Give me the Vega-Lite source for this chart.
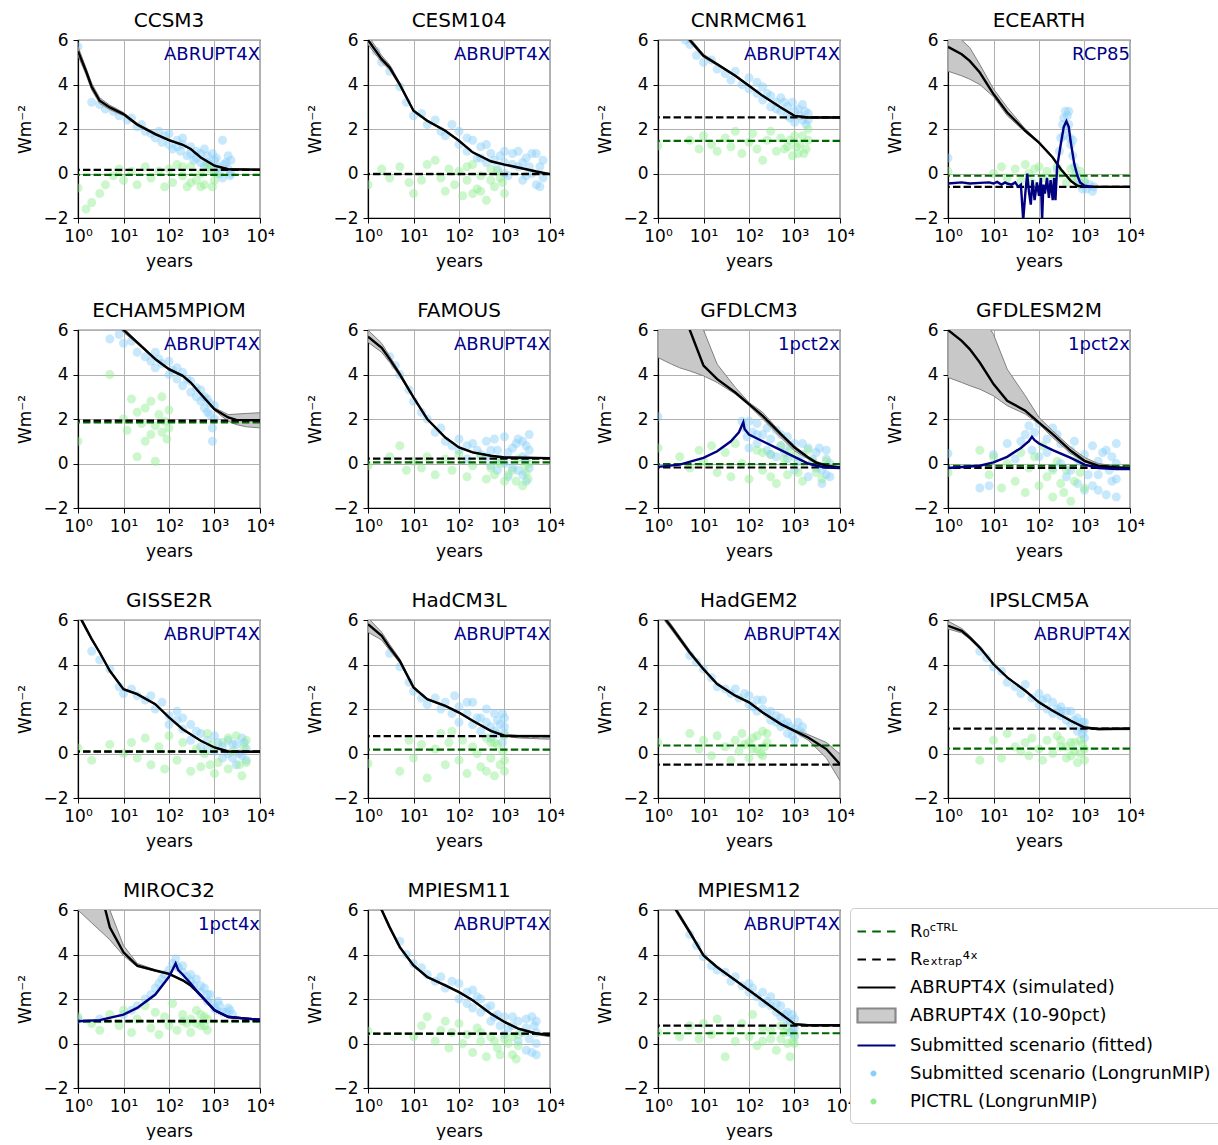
{
"$schema":"https://vega.github.io/schema/vega-lite/v6.json",
"padding":{"left":16,"top":10,"right":0,"bottom":0},
"config":{
 "font":"DejaVu Sans",
 "view":{"stroke":"black","strokeWidth":1.2},
 "axis":{"grid":true,"gridColor":"#b0b0b0","gridWidth":1,"domainColor":"black","domainWidth":1.2,"tickColor":"black","tickSize":5,"labelFontSize":17,"labelColor":"black","titleFontSize":17,"titleFontWeight":"normal","titleColor":"black","labelFlush":false,"labelOverlap":false},
 "axisX":{"labelPadding":5,"titlePadding":9},
 "axisY":{"labelPadding":5,"titlePadding":8},
 "legend":{"orient":"none","legendX":772,"legendY":868,"labelFontSize":18,"labelColor":"black","symbolSize":400,"symbolStrokeWidth":2.2,"symbolOpacity":1,"fillColor":"white","strokeColor":"#cccccc","cornerRadius":4,"padding":12,"rowPadding":7,"labelOffset":25,"labelLimit":400}
},
"columns":4,
"spacing":{"row":30,"column":31},
"resolve":{"axis":{"x":"independent","y":"independent"}},
"facet":{"field":"m","type":"nominal","sort":["CCSM3","CESM104","CNRMCM61","ECEARTH","ECHAM5MPIOM","FAMOUS","GFDLCM3","GFDLESM2M","GISSE2R","HadCM3L","HadGEM2","IPSLCM5A","MIROC32","MPIESM11","MPIESM12"],"header":{"title":null,"labelFontSize":20,"labelPadding":0,"labelColor":"black"}},
"data":{"values":[
{"m":"CCSM3","k":"r","r0":-0.06,"rx":0.16,"lab":"ABRUPT4X"},
{"m":"CESM104","k":"r","r0":-0.02,"rx":-0.03,"lab":"ABRUPT4X"},
{"m":"CNRMCM61","k":"r","r0":1.47,"rx":2.52,"lab":"ABRUPT4X"},
{"m":"ECEARTH","k":"r","r0":-0.1,"rx":-0.6,"lab":"RCP85"},
{"m":"ECHAM5MPIOM","k":"r","r0":1.85,"rx":1.93,"lab":"ABRUPT4X"},
{"m":"FAMOUS","k":"r","r0":0.05,"rx":0.22,"lab":"ABRUPT4X"},
{"m":"GFDLCM3","k":"r","r0":-0.03,"rx":-0.18,"lab":"1pct2x"},
{"m":"GFDLESM2M","k":"r","r0":-0.1,"rx":-0.2,"lab":"1pct2x"},
{"m":"GISSE2R","k":"r","r0":0.1,"rx":0.08,"lab":"ABRUPT4X"},
{"m":"HadCM3L","k":"r","r0":0.17,"rx":0.78,"lab":"ABRUPT4X"},
{"m":"HadGEM2","k":"r","r0":0.36,"rx":-0.5,"lab":"ABRUPT4X"},
{"m":"IPSLCM5A","k":"r","r0":0.22,"rx":1.12,"lab":"ABRUPT4X"},
{"m":"MIROC32","k":"r","r0":0.98,"rx":1.02,"lab":"1pct4x"},
{"m":"MPIESM11","k":"r","r0":0.43,"rx":0.45,"lab":"ABRUPT4X"},
{"m":"MPIESM12","k":"r","r0":0.46,"rx":0.8,"lab":"ABRUPT4X"},

{"m":"CCSM3","k":"s","x":1,"y":5.5,"lo":5.3,"hi":5.7},
{"m":"CCSM3","k":"s","x":1.5,"y":4.6,"lo":4.45,"hi":4.75},
{"m":"CCSM3","k":"s","x":2,"y":3.9,"lo":3.75,"hi":4.05},
{"m":"CCSM3","k":"s","x":3,"y":3.27,"lo":3.15,"hi":3.4},
{"m":"CCSM3","k":"s","x":5,"y":2.97,"lo":2.87,"hi":3.07},
{"m":"CCSM3","k":"s","x":10,"y":2.67,"lo":2.6,"hi":2.74},
{"m":"CCSM3","k":"s","x":20,"y":2.2,"lo":2.15,"hi":2.25},
{"m":"CCSM3","k":"s","x":50,"y":1.77,"lo":1.73,"hi":1.81},
{"m":"CCSM3","k":"s","x":100,"y":1.5,"lo":1.47,"hi":1.53},
{"m":"CCSM3","k":"s","x":200,"y":1.29,"lo":1.26,"hi":1.32},
{"m":"CCSM3","k":"s","x":300,"y":1.1,"lo":1.07,"hi":1.13},
{"m":"CCSM3","k":"s","x":500,"y":0.72,"lo":0.69,"hi":0.75},
{"m":"CCSM3","k":"s","x":1000,"y":0.35,"lo":0.32,"hi":0.38},
{"m":"CCSM3","k":"s","x":2000,"y":0.19,"lo":0.16,"hi":0.22},
{"m":"CCSM3","k":"s","x":10000,"y":0.17,"lo":0.14,"hi":0.2},

{"m":"CESM104","k":"s","x":1,"y":6.0,"lo":5.8,"hi":6.2},
{"m":"CESM104","k":"s","x":2,"y":5.14,"lo":5.0,"hi":5.3},
{"m":"CESM104","k":"s","x":3,"y":4.76,"lo":4.65,"hi":4.88},
{"m":"CESM104","k":"s","x":5,"y":4.0,"lo":3.92,"hi":4.08},
{"m":"CESM104","k":"s","x":10,"y":2.82,"lo":2.77,"hi":2.87},
{"m":"CESM104","k":"s","x":20,"y":2.37,"lo":2.33,"hi":2.41},
{"m":"CESM104","k":"s","x":50,"y":1.92,"lo":1.89,"hi":1.95},
{"m":"CESM104","k":"s","x":100,"y":1.47,"lo":1.44,"hi":1.5},
{"m":"CESM104","k":"s","x":200,"y":0.95,"lo":0.93,"hi":0.97},
{"m":"CESM104","k":"s","x":500,"y":0.55,"lo":0.53,"hi":0.57},
{"m":"CESM104","k":"s","x":1000,"y":0.4,"lo":0.38,"hi":0.42},
{"m":"CESM104","k":"s","x":2000,"y":0.27,"lo":0.25,"hi":0.29},
{"m":"CESM104","k":"s","x":5000,"y":0.09,"lo":0.07,"hi":0.11},
{"m":"CESM104","k":"s","x":10000,"y":-0.03,"lo":-0.05,"hi":-0.01},

{"m":"CNRMCM61","k":"s","x":3,"y":6.5,"lo":6.4,"hi":6.6},
{"m":"CNRMCM61","k":"s","x":5,"y":6.0,"lo":5.9,"hi":6.1},
{"m":"CNRMCM61","k":"s","x":10,"y":5.29,"lo":5.22,"hi":5.36},
{"m":"CNRMCM61","k":"s","x":20,"y":4.91,"lo":4.86,"hi":4.96},
{"m":"CNRMCM61","k":"s","x":50,"y":4.39,"lo":4.35,"hi":4.43},
{"m":"CNRMCM61","k":"s","x":100,"y":3.94,"lo":3.9,"hi":3.98},
{"m":"CNRMCM61","k":"s","x":200,"y":3.49,"lo":3.46,"hi":3.52},
{"m":"CNRMCM61","k":"s","x":500,"y":2.97,"lo":2.94,"hi":3.0},
{"m":"CNRMCM61","k":"s","x":1000,"y":2.59,"lo":2.56,"hi":2.62},
{"m":"CNRMCM61","k":"s","x":2000,"y":2.52,"lo":2.49,"hi":2.55},
{"m":"CNRMCM61","k":"s","x":10000,"y":2.52,"lo":2.49,"hi":2.55},

{"m":"ECEARTH","k":"s","x":1,"y":5.69,"lo":4.6,"hi":6.5},
{"m":"ECEARTH","k":"s","x":2,"y":5.36,"lo":4.39,"hi":6.0},
{"m":"ECEARTH","k":"s","x":3,"y":5.06,"lo":4.24,"hi":5.66},
{"m":"ECEARTH","k":"s","x":5,"y":4.54,"lo":4.0,"hi":4.9},
{"m":"ECEARTH","k":"s","x":10,"y":3.57,"lo":3.45,"hi":3.8},
{"m":"ECEARTH","k":"s","x":20,"y":2.74,"lo":2.6,"hi":2.97},
{"m":"ECEARTH","k":"s","x":50,"y":1.92,"lo":1.85,"hi":2.0},
{"m":"ECEARTH","k":"s","x":100,"y":1.39,"lo":1.35,"hi":1.43},
{"m":"ECEARTH","k":"s","x":200,"y":0.72,"lo":0.69,"hi":0.75},
{"m":"ECEARTH","k":"s","x":300,"y":0.2,"lo":0.17,"hi":0.23},
{"m":"ECEARTH","k":"s","x":500,"y":-0.33,"lo":-0.36,"hi":-0.3},
{"m":"ECEARTH","k":"s","x":700,"y":-0.55,"lo":-0.58,"hi":-0.52},
{"m":"ECEARTH","k":"s","x":1000,"y":-0.6,"lo":-0.63,"hi":-0.57},
{"m":"ECEARTH","k":"s","x":10000,"y":-0.6,"lo":-0.63,"hi":-0.57},

{"m":"ECHAM5MPIOM","k":"s","x":7,"y":6.3,"lo":6.2,"hi":6.4},
{"m":"ECHAM5MPIOM","k":"s","x":10,"y":6.0,"lo":5.9,"hi":6.1},
{"m":"ECHAM5MPIOM","k":"s","x":20,"y":5.44,"lo":5.38,"hi":5.5},
{"m":"ECHAM5MPIOM","k":"s","x":50,"y":4.69,"lo":4.64,"hi":4.74},
{"m":"ECHAM5MPIOM","k":"s","x":100,"y":4.24,"lo":4.2,"hi":4.28},
{"m":"ECHAM5MPIOM","k":"s","x":200,"y":3.94,"lo":3.9,"hi":3.98},
{"m":"ECHAM5MPIOM","k":"s","x":300,"y":3.64,"lo":3.6,"hi":3.68},
{"m":"ECHAM5MPIOM","k":"s","x":500,"y":3.12,"lo":3.08,"hi":3.16},
{"m":"ECHAM5MPIOM","k":"s","x":1000,"y":2.44,"lo":2.38,"hi":2.5},
{"m":"ECHAM5MPIOM","k":"s","x":2000,"y":2.07,"lo":1.9,"hi":2.2},
{"m":"ECHAM5MPIOM","k":"s","x":3000,"y":1.96,"lo":1.75,"hi":2.22},
{"m":"ECHAM5MPIOM","k":"s","x":5000,"y":1.95,"lo":1.65,"hi":2.25},
{"m":"ECHAM5MPIOM","k":"s","x":10000,"y":1.95,"lo":1.6,"hi":2.28},

{"m":"FAMOUS","k":"s","x":1,"y":5.7,"lo":5.45,"hi":6.0},
{"m":"FAMOUS","k":"s","x":2,"y":5.2,"lo":5.0,"hi":5.4},
{"m":"FAMOUS","k":"s","x":3,"y":4.69,"lo":4.55,"hi":4.82},
{"m":"FAMOUS","k":"s","x":5,"y":4.01,"lo":3.92,"hi":4.1},
{"m":"FAMOUS","k":"s","x":10,"y":2.97,"lo":2.92,"hi":3.02},
{"m":"FAMOUS","k":"s","x":20,"y":2.0,"lo":1.96,"hi":2.04},
{"m":"FAMOUS","k":"s","x":50,"y":1.17,"lo":1.14,"hi":1.2},
{"m":"FAMOUS","k":"s","x":100,"y":0.72,"lo":0.7,"hi":0.74},
{"m":"FAMOUS","k":"s","x":200,"y":0.5,"lo":0.48,"hi":0.52},
{"m":"FAMOUS","k":"s","x":500,"y":0.35,"lo":0.33,"hi":0.37},
{"m":"FAMOUS","k":"s","x":1000,"y":0.27,"lo":0.25,"hi":0.29},
{"m":"FAMOUS","k":"s","x":10000,"y":0.24,"lo":0.22,"hi":0.26},

{"m":"GFDLCM3","k":"s","x":1,"y":8.5,"lo":4.76,"hi":9},
{"m":"GFDLCM3","k":"s","x":2,"y":7.6,"lo":4.46,"hi":8.5},
{"m":"GFDLCM3","k":"s","x":3,"y":6.8,"lo":4.3,"hi":8},
{"m":"GFDLCM3","k":"s","x":5,"y":6.0,"lo":4.16,"hi":7.3},
{"m":"GFDLCM3","k":"s","x":10,"y":4.4,"lo":3.94,"hi":6.0},
{"m":"GFDLCM3","k":"s","x":20,"y":3.79,"lo":3.64,"hi":4.46},
{"m":"GFDLCM3","k":"s","x":50,"y":3.19,"lo":3.12,"hi":3.42},
{"m":"GFDLCM3","k":"s","x":100,"y":2.67,"lo":2.6,"hi":2.74},
{"m":"GFDLCM3","k":"s","x":200,"y":2.14,"lo":2.0,"hi":2.3},
{"m":"GFDLCM3","k":"s","x":500,"y":1.32,"lo":1.17,"hi":1.39},
{"m":"GFDLCM3","k":"s","x":1000,"y":0.72,"lo":0.57,"hi":0.8},
{"m":"GFDLCM3","k":"s","x":2000,"y":0.27,"lo":0.2,"hi":0.3},
{"m":"GFDLCM3","k":"s","x":3000,"y":0.04,"lo":0.0,"hi":0.1},
{"m":"GFDLCM3","k":"s","x":5000,"y":-0.1,"lo":-0.12,"hi":-0.06},
{"m":"GFDLCM3","k":"s","x":10000,"y":-0.18,"lo":-0.2,"hi":-0.15},

{"m":"GFDLESM2M","k":"s","x":1,"y":6.0,"lo":3.87,"hi":8},
{"m":"GFDLESM2M","k":"s","x":2,"y":5.51,"lo":3.64,"hi":7.5},
{"m":"GFDLESM2M","k":"s","x":3,"y":5.14,"lo":3.5,"hi":7.1},
{"m":"GFDLESM2M","k":"s","x":5,"y":4.54,"lo":3.34,"hi":6.8},
{"m":"GFDLESM2M","k":"s","x":10,"y":3.57,"lo":3.04,"hi":5.8},
{"m":"GFDLESM2M","k":"s","x":20,"y":2.82,"lo":2.6,"hi":4.24},
{"m":"GFDLESM2M","k":"s","x":50,"y":2.37,"lo":2.22,"hi":3.04},
{"m":"GFDLESM2M","k":"s","x":100,"y":1.84,"lo":1.77,"hi":2.07},
{"m":"GFDLESM2M","k":"s","x":200,"y":1.32,"lo":1.17,"hi":1.47},
{"m":"GFDLESM2M","k":"s","x":500,"y":0.57,"lo":0.45,"hi":0.72},
{"m":"GFDLESM2M","k":"s","x":1000,"y":0.12,"lo":0.07,"hi":0.27},
{"m":"GFDLESM2M","k":"s","x":2000,"y":-0.1,"lo":-0.12,"hi":0.0},
{"m":"GFDLESM2M","k":"s","x":5000,"y":-0.18,"lo":-0.2,"hi":-0.12},
{"m":"GFDLESM2M","k":"s","x":10000,"y":-0.22,"lo":-0.25,"hi":-0.18},

{"m":"GISSE2R","k":"s","x":1,"y":6.3,"lo":6.2,"hi":6.4},
{"m":"GISSE2R","k":"s","x":2,"y":5.14,"lo":5.08,"hi":5.2},
{"m":"GISSE2R","k":"s","x":3,"y":4.54,"lo":4.49,"hi":4.59},
{"m":"GISSE2R","k":"s","x":5,"y":3.72,"lo":3.68,"hi":3.76},
{"m":"GISSE2R","k":"s","x":10,"y":2.89,"lo":2.86,"hi":2.92},
{"m":"GISSE2R","k":"s","x":20,"y":2.67,"lo":2.64,"hi":2.7},
{"m":"GISSE2R","k":"s","x":50,"y":2.22,"lo":2.19,"hi":2.25},
{"m":"GISSE2R","k":"s","x":100,"y":1.62,"lo":1.6,"hi":1.64},
{"m":"GISSE2R","k":"s","x":200,"y":1.09,"lo":1.07,"hi":1.11},
{"m":"GISSE2R","k":"s","x":500,"y":0.57,"lo":0.55,"hi":0.59},
{"m":"GISSE2R","k":"s","x":1000,"y":0.27,"lo":0.25,"hi":0.29},
{"m":"GISSE2R","k":"s","x":2000,"y":0.09,"lo":0.07,"hi":0.11},
{"m":"GISSE2R","k":"s","x":10000,"y":0.08,"lo":0.06,"hi":0.1},

{"m":"HadCM3L","k":"s","x":1,"y":5.81,"lo":5.45,"hi":6.1},
{"m":"HadCM3L","k":"s","x":2,"y":5.29,"lo":5.1,"hi":5.45},
{"m":"HadCM3L","k":"s","x":3,"y":4.76,"lo":4.63,"hi":4.9},
{"m":"HadCM3L","k":"s","x":5,"y":4.16,"lo":4.07,"hi":4.25},
{"m":"HadCM3L","k":"s","x":10,"y":2.97,"lo":2.92,"hi":3.02},
{"m":"HadCM3L","k":"s","x":20,"y":2.44,"lo":2.41,"hi":2.47},
{"m":"HadCM3L","k":"s","x":50,"y":2.14,"lo":2.11,"hi":2.17},
{"m":"HadCM3L","k":"s","x":100,"y":1.84,"lo":1.81,"hi":1.87},
{"m":"HadCM3L","k":"s","x":200,"y":1.47,"lo":1.44,"hi":1.5},
{"m":"HadCM3L","k":"s","x":500,"y":1.02,"lo":0.99,"hi":1.05},
{"m":"HadCM3L","k":"s","x":1000,"y":0.8,"lo":0.77,"hi":0.83},
{"m":"HadCM3L","k":"s","x":2000,"y":0.78,"lo":0.7,"hi":0.82},
{"m":"HadCM3L","k":"s","x":10000,"y":0.78,"lo":0.64,"hi":0.82},

{"m":"HadGEM2","k":"s","x":1,"y":6.5,"lo":6.4,"hi":6.6},
{"m":"HadGEM2","k":"s","x":1.5,"y":6.0,"lo":5.88,"hi":6.12},
{"m":"HadGEM2","k":"s","x":2,"y":5.66,"lo":5.55,"hi":5.77},
{"m":"HadGEM2","k":"s","x":5,"y":4.54,"lo":4.45,"hi":4.63},
{"m":"HadGEM2","k":"s","x":10,"y":3.79,"lo":3.74,"hi":3.84},
{"m":"HadGEM2","k":"s","x":20,"y":3.12,"lo":3.08,"hi":3.16},
{"m":"HadGEM2","k":"s","x":50,"y":2.6,"lo":2.57,"hi":2.63},
{"m":"HadGEM2","k":"s","x":100,"y":2.3,"lo":2.27,"hi":2.33},
{"m":"HadGEM2","k":"s","x":200,"y":1.84,"lo":1.81,"hi":1.87},
{"m":"HadGEM2","k":"s","x":500,"y":1.32,"lo":1.29,"hi":1.35},
{"m":"HadGEM2","k":"s","x":1000,"y":1.02,"lo":0.98,"hi":1.06},
{"m":"HadGEM2","k":"s","x":2000,"y":0.72,"lo":0.6,"hi":0.85},
{"m":"HadGEM2","k":"s","x":5000,"y":0.2,"lo":-0.2,"hi":0.5},
{"m":"HadGEM2","k":"s","x":10000,"y":-0.48,"lo":-1.23,"hi":-0.03},

{"m":"IPSLCM5A","k":"s","x":1,"y":5.74,"lo":5.6,"hi":5.95},
{"m":"IPSLCM5A","k":"s","x":2,"y":5.51,"lo":5.42,"hi":5.62},
{"m":"IPSLCM5A","k":"s","x":3,"y":5.21,"lo":5.14,"hi":5.3},
{"m":"IPSLCM5A","k":"s","x":5,"y":4.76,"lo":4.7,"hi":4.82},
{"m":"IPSLCM5A","k":"s","x":10,"y":4.01,"lo":3.97,"hi":4.05},
{"m":"IPSLCM5A","k":"s","x":20,"y":3.42,"lo":3.39,"hi":3.45},
{"m":"IPSLCM5A","k":"s","x":50,"y":2.82,"lo":2.79,"hi":2.85},
{"m":"IPSLCM5A","k":"s","x":100,"y":2.3,"lo":2.27,"hi":2.33},
{"m":"IPSLCM5A","k":"s","x":200,"y":1.92,"lo":1.89,"hi":1.95},
{"m":"IPSLCM5A","k":"s","x":500,"y":1.47,"lo":1.44,"hi":1.5},
{"m":"IPSLCM5A","k":"s","x":1000,"y":1.17,"lo":1.14,"hi":1.2},
{"m":"IPSLCM5A","k":"s","x":2000,"y":1.1,"lo":1.06,"hi":1.14},
{"m":"IPSLCM5A","k":"s","x":10000,"y":1.12,"lo":1.07,"hi":1.16},

{"m":"MIROC32","k":"s","x":1,"y":8.0,"lo":6.0,"hi":9.5},
{"m":"MIROC32","k":"s","x":2,"y":6.8,"lo":5.42,"hi":8.5},
{"m":"MIROC32","k":"s","x":4,"y":6.0,"lo":4.85,"hi":6.9},
{"m":"MIROC32","k":"s","x":5,"y":5.22,"lo":4.66,"hi":6.0},
{"m":"MIROC32","k":"s","x":10,"y":4.1,"lo":3.95,"hi":4.4},
{"m":"MIROC32","k":"s","x":20,"y":3.5,"lo":3.45,"hi":3.6},
{"m":"MIROC32","k":"s","x":50,"y":3.28,"lo":3.25,"hi":3.31},
{"m":"MIROC32","k":"s","x":100,"y":3.13,"lo":3.1,"hi":3.16},
{"m":"MIROC32","k":"s","x":200,"y":2.84,"lo":2.81,"hi":2.87},
{"m":"MIROC32","k":"s","x":300,"y":2.61,"lo":2.58,"hi":2.64},
{"m":"MIROC32","k":"s","x":500,"y":2.16,"lo":2.13,"hi":2.19},
{"m":"MIROC32","k":"s","x":1000,"y":1.49,"lo":1.46,"hi":1.52},
{"m":"MIROC32","k":"s","x":2000,"y":1.19,"lo":1.16,"hi":1.22},
{"m":"MIROC32","k":"s","x":5000,"y":1.12,"lo":1.09,"hi":1.15},
{"m":"MIROC32","k":"s","x":10000,"y":1.07,"lo":1.04,"hi":1.1},

{"m":"MPIESM11","k":"s","x":1,"y":6.8,"lo":6.7,"hi":6.9},
{"m":"MPIESM11","k":"s","x":2,"y":6.0,"lo":5.92,"hi":6.08},
{"m":"MPIESM11","k":"s","x":3,"y":5.22,"lo":5.15,"hi":5.29},
{"m":"MPIESM11","k":"s","x":5,"y":4.33,"lo":4.27,"hi":4.39},
{"m":"MPIESM11","k":"s","x":10,"y":3.51,"lo":3.46,"hi":3.56},
{"m":"MPIESM11","k":"s","x":20,"y":2.99,"lo":2.95,"hi":3.03},
{"m":"MPIESM11","k":"s","x":50,"y":2.61,"lo":2.58,"hi":2.64},
{"m":"MPIESM11","k":"s","x":100,"y":2.31,"lo":2.28,"hi":2.34},
{"m":"MPIESM11","k":"s","x":200,"y":1.94,"lo":1.91,"hi":1.97},
{"m":"MPIESM11","k":"s","x":500,"y":1.34,"lo":1.31,"hi":1.37},
{"m":"MPIESM11","k":"s","x":1000,"y":0.97,"lo":0.94,"hi":1.0},
{"m":"MPIESM11","k":"s","x":2000,"y":0.67,"lo":0.64,"hi":0.7},
{"m":"MPIESM11","k":"s","x":5000,"y":0.45,"lo":0.4,"hi":0.48},
{"m":"MPIESM11","k":"s","x":10000,"y":0.37,"lo":0.3,"hi":0.42},

{"m":"MPIESM12","k":"s","x":1,"y":7.5,"lo":7.4,"hi":7.6},
{"m":"MPIESM12","k":"s","x":2.5,"y":6.0,"lo":5.9,"hi":6.1},
{"m":"MPIESM12","k":"s","x":5,"y":5.0,"lo":4.92,"hi":5.08},
{"m":"MPIESM12","k":"s","x":10,"y":3.96,"lo":3.91,"hi":4.01},
{"m":"MPIESM12","k":"s","x":20,"y":3.43,"lo":3.39,"hi":3.47},
{"m":"MPIESM12","k":"s","x":50,"y":2.84,"lo":2.81,"hi":2.87},
{"m":"MPIESM12","k":"s","x":100,"y":2.39,"lo":2.36,"hi":2.42},
{"m":"MPIESM12","k":"s","x":200,"y":1.94,"lo":1.91,"hi":1.97},
{"m":"MPIESM12","k":"s","x":500,"y":1.34,"lo":1.31,"hi":1.37},
{"m":"MPIESM12","k":"s","x":1000,"y":0.87,"lo":0.84,"hi":0.9},
{"m":"MPIESM12","k":"s","x":2000,"y":0.82,"lo":0.79,"hi":0.85},
{"m":"MPIESM12","k":"s","x":10000,"y":0.82,"lo":0.79,"hi":0.85},

{"m":"ECEARTH","k":"f","x":1,"y":-0.45},{"m":"ECEARTH","k":"f","x":2,"y":-0.4},{"m":"ECEARTH","k":"f","x":3,"y":-0.45},{"m":"ECEARTH","k":"f","x":5,"y":-0.42},{"m":"ECEARTH","k":"f","x":8,"y":-0.4},{"m":"ECEARTH","k":"f","x":10,"y":-0.45},{"m":"ECEARTH","k":"f","x":12,"y":-0.38},{"m":"ECEARTH","k":"f","x":15,"y":-0.5},{"m":"ECEARTH","k":"f","x":18,"y":-0.4},{"m":"ECEARTH","k":"f","x":20,"y":-0.45},{"m":"ECEARTH","k":"f","x":25,"y":-0.5},{"m":"ECEARTH","k":"f","x":30,"y":-0.4},{"m":"ECEARTH","k":"f","x":35,"y":-0.6},{"m":"ECEARTH","k":"f","x":40,"y":-0.5},{"m":"ECEARTH","k":"f","x":45,"y":-2.1},{"m":"ECEARTH","k":"f","x":50,"y":-0.9},{"m":"ECEARTH","k":"f","x":55,"y":0.0},{"m":"ECEARTH","k":"f","x":60,"y":-0.8},{"m":"ECEARTH","k":"f","x":66,"y":-1.4},{"m":"ECEARTH","k":"f","x":72,"y":-0.3},{"m":"ECEARTH","k":"f","x":80,"y":-1.2},{"m":"ECEARTH","k":"f","x":90,"y":-0.4},{"m":"ECEARTH","k":"f","x":100,"y":-1.0},{"m":"ECEARTH","k":"f","x":110,"y":-0.2},{"m":"ECEARTH","k":"f","x":117,"y":-2.1},{"m":"ECEARTH","k":"f","x":125,"y":-0.5},{"m":"ECEARTH","k":"f","x":135,"y":-0.9},{"m":"ECEARTH","k":"f","x":150,"y":-0.2},{"m":"ECEARTH","k":"f","x":165,"y":-1.1},{"m":"ECEARTH","k":"f","x":180,"y":-0.3},{"m":"ECEARTH","k":"f","x":200,"y":-1.2},{"m":"ECEARTH","k":"f","x":215,"y":-0.2},{"m":"ECEARTH","k":"f","x":230,"y":-1.2},{"m":"ECEARTH","k":"f","x":250,"y":0.3},{"m":"ECEARTH","k":"f","x":300,"y":1.3},{"m":"ECEARTH","k":"f","x":350,"y":2.1},{"m":"ECEARTH","k":"f","x":400,"y":2.35},{"m":"ECEARTH","k":"f","x":450,"y":2.1},{"m":"ECEARTH","k":"f","x":500,"y":1.4},{"m":"ECEARTH","k":"f","x":600,"y":0.4},{"m":"ECEARTH","k":"f","x":700,"y":-0.1},{"m":"ECEARTH","k":"f","x":800,"y":-0.4},{"m":"ECEARTH","k":"f","x":1000,"y":-0.55},{"m":"ECEARTH","k":"f","x":1500,"y":-0.6},

{"m":"GFDLCM3","k":"f","x":1,"y":-0.15},{"m":"GFDLCM3","k":"f","x":3,"y":-0.05},{"m":"GFDLCM3","k":"f","x":10,"y":0.25},{"m":"GFDLCM3","k":"f","x":20,"y":0.55},{"m":"GFDLCM3","k":"f","x":40,"y":1.0},{"m":"GFDLCM3","k":"f","x":60,"y":1.4},{"m":"GFDLCM3","k":"f","x":75,"y":1.85},{"m":"GFDLCM3","k":"f","x":80,"y":1.55},{"m":"GFDLCM3","k":"f","x":100,"y":1.3},{"m":"GFDLCM3","k":"f","x":200,"y":1.0},{"m":"GFDLCM3","k":"f","x":500,"y":0.6},{"m":"GFDLCM3","k":"f","x":1000,"y":0.3},{"m":"GFDLCM3","k":"f","x":2000,"y":0.0},{"m":"GFDLCM3","k":"f","x":3000,"y":-0.1},{"m":"GFDLCM3","k":"f","x":5000,"y":-0.18},{"m":"GFDLCM3","k":"f","x":10000,"y":-0.2},

{"m":"GFDLESM2M","k":"f","x":1,"y":-0.2},{"m":"GFDLESM2M","k":"f","x":5,"y":-0.1},{"m":"GFDLESM2M","k":"f","x":10,"y":0.05},{"m":"GFDLESM2M","k":"f","x":20,"y":0.3},{"m":"GFDLESM2M","k":"f","x":40,"y":0.7},{"m":"GFDLESM2M","k":"f","x":60,"y":1.0},{"m":"GFDLESM2M","k":"f","x":70,"y":1.2},{"m":"GFDLESM2M","k":"f","x":80,"y":1.05},{"m":"GFDLESM2M","k":"f","x":100,"y":0.9},{"m":"GFDLESM2M","k":"f","x":200,"y":0.6},{"m":"GFDLESM2M","k":"f","x":500,"y":0.25},{"m":"GFDLESM2M","k":"f","x":1000,"y":-0.05},{"m":"GFDLESM2M","k":"f","x":2000,"y":-0.2},{"m":"GFDLESM2M","k":"f","x":5000,"y":-0.25},{"m":"GFDLESM2M","k":"f","x":10000,"y":-0.25},

{"m":"MIROC32","k":"f","x":1,"y":1.0},{"m":"MIROC32","k":"f","x":3,"y":1.05},{"m":"MIROC32","k":"f","x":10,"y":1.3},{"m":"MIROC32","k":"f","x":20,"y":1.6},{"m":"MIROC32","k":"f","x":50,"y":2.2},{"m":"MIROC32","k":"f","x":100,"y":3.0},{"m":"MIROC32","k":"f","x":140,"y":3.6},{"m":"MIROC32","k":"f","x":160,"y":3.3},{"m":"MIROC32","k":"f","x":200,"y":3.1},{"m":"MIROC32","k":"f","x":300,"y":2.7},{"m":"MIROC32","k":"f","x":500,"y":2.15},{"m":"MIROC32","k":"f","x":1000,"y":1.5},{"m":"MIROC32","k":"f","x":2000,"y":1.2},{"m":"MIROC32","k":"f","x":5000,"y":1.12},{"m":"MIROC32","k":"f","x":10000,"y":1.07},

{"m":"CCSM3","k":"b","x":1,"y":5.7},{"m":"CCSM3","k":"b","x":2,"y":3.2},{"m":"CCSM3","k":"b","x":3,"y":3.1},{"m":"CCSM3","k":"b","x":4,"y":2.9},{"m":"CCSM3","k":"b","x":6,"y":2.8},{"m":"CCSM3","k":"b","x":8,"y":2.6},{"m":"CCSM3","k":"b","x":12,"y":2.4},{"m":"CCSM3","k":"b","x":15,"y":2.5},{"m":"CCSM3","k":"b","x":20,"y":2.1},{"m":"CCSM3","k":"b","x":25,"y":2.2},{"m":"CCSM3","k":"b","x":30,"y":1.9},{"m":"CCSM3","k":"b","x":40,"y":1.8},{"m":"CCSM3","k":"b","x":50,"y":1.6},{"m":"CCSM3","k":"b","x":60,"y":1.9},{"m":"CCSM3","k":"b","x":70,"y":1.4},{"m":"CCSM3","k":"b","x":80,"y":1.7},{"m":"CCSM3","k":"b","x":100,"y":1.3},{"m":"CCSM3","k":"b","x":100,"y":1.8},{"m":"CCSM3","k":"b","x":120,"y":1.1},{"m":"CCSM3","k":"b","x":150,"y":1.5},{"m":"CCSM3","k":"b","x":180,"y":1.0},{"m":"CCSM3","k":"b","x":200,"y":1.3},{"m":"CCSM3","k":"b","x":250,"y":0.8},{"m":"CCSM3","k":"b","x":300,"y":1.2},{"m":"CCSM3","k":"b","x":350,"y":0.6},{"m":"CCSM3","k":"b","x":400,"y":1.0},{"m":"CCSM3","k":"b","x":500,"y":0.5},{"m":"CCSM3","k":"b","x":500,"y":0.9},{"m":"CCSM3","k":"b","x":600,"y":0.3},{"m":"CCSM3","k":"b","x":700,"y":0.8},{"m":"CCSM3","k":"b","x":800,"y":0.4},{"m":"CCSM3","k":"b","x":1000,"y":0.6},{"m":"CCSM3","k":"b","x":1000,"y":0.1},{"m":"CCSM3","k":"b","x":1200,"y":0.3},{"m":"CCSM3","k":"b","x":1500,"y":1.5},{"m":"CCSM3","k":"b","x":1500,"y":-0.2},{"m":"CCSM3","k":"b","x":1800,"y":0.5},{"m":"CCSM3","k":"b","x":2000,"y":0.2},{"m":"CCSM3","k":"b","x":2200,"y":-0.1},{"m":"CCSM3","k":"b","x":2300,"y":0.6},
{"m":"CCSM3","k":"g","x":1,"y":-0.65},{"m":"CCSM3","k":"g","x":1.5,"y":-1.6},{"m":"CCSM3","k":"g","x":2,"y":-1.3},{"m":"CCSM3","k":"g","x":3,"y":-0.9},{"m":"CCSM3","k":"g","x":4,"y":-0.5},{"m":"CCSM3","k":"g","x":6,"y":-0.1},{"m":"CCSM3","k":"g","x":8,"y":0.2},{"m":"CCSM3","k":"g","x":10,"y":-0.3},{"m":"CCSM3","k":"g","x":15,"y":0.1},{"m":"CCSM3","k":"g","x":20,"y":-0.5},{"m":"CCSM3","k":"g","x":30,"y":0.3},{"m":"CCSM3","k":"g","x":40,"y":-0.2},{"m":"CCSM3","k":"g","x":60,"y":0.1},{"m":"CCSM3","k":"g","x":80,"y":-0.6},{"m":"CCSM3","k":"g","x":100,"y":0.2},{"m":"CCSM3","k":"g","x":120,"y":-0.4},{"m":"CCSM3","k":"g","x":150,"y":0.4},{"m":"CCSM3","k":"g","x":200,"y":-0.1},{"m":"CCSM3","k":"g","x":250,"y":-0.6},{"m":"CCSM3","k":"g","x":300,"y":0.3},{"m":"CCSM3","k":"g","x":400,"y":-0.3},{"m":"CCSM3","k":"g","x":500,"y":0.0},{"m":"CCSM3","k":"g","x":600,"y":-0.5},{"m":"CCSM3","k":"g","x":800,"y":0.2},{"m":"CCSM3","k":"g","x":1000,"y":-0.3},

{"m":"CESM104","k":"b","x":1.5,"y":5.5},{"m":"CESM104","k":"b","x":2,"y":5.0},{"m":"CESM104","k":"b","x":3,"y":4.6},{"m":"CESM104","k":"b","x":5,"y":3.9},{"m":"CESM104","k":"b","x":7,"y":3.2},{"m":"CESM104","k":"b","x":10,"y":2.6},{"m":"CESM104","k":"b","x":15,"y":2.7},{"m":"CESM104","k":"b","x":20,"y":2.2},{"m":"CESM104","k":"b","x":30,"y":2.4},{"m":"CESM104","k":"b","x":40,"y":1.9},{"m":"CESM104","k":"b","x":50,"y":1.7},{"m":"CESM104","k":"b","x":70,"y":2.2},{"m":"CESM104","k":"b","x":100,"y":1.3},{"m":"CESM104","k":"b","x":100,"y":1.9},{"m":"CESM104","k":"b","x":150,"y":1.0},{"m":"CESM104","k":"b","x":200,"y":1.5},{"m":"CESM104","k":"b","x":250,"y":0.7},{"m":"CESM104","k":"b","x":300,"y":1.2},{"m":"CESM104","k":"b","x":400,"y":0.5},{"m":"CESM104","k":"b","x":500,"y":0.9},{"m":"CESM104","k":"b","x":700,"y":0.2},{"m":"CESM104","k":"b","x":800,"y":0.8},{"m":"CESM104","k":"b","x":1000,"y":0.5},{"m":"CESM104","k":"b","x":1200,"y":-0.1},{"m":"CESM104","k":"b","x":1500,"y":0.9},{"m":"CESM104","k":"b","x":2000,"y":0.3},{"m":"CESM104","k":"b","x":2500,"y":-0.3},{"m":"CESM104","k":"b","x":3000,"y":0.7},{"m":"CESM104","k":"b","x":4000,"y":0.0},{"m":"CESM104","k":"b","x":5000,"y":0.9},{"m":"CESM104","k":"b","x":5000,"y":-0.5},{"m":"CESM104","k":"b","x":6000,"y":0.3},{"m":"CESM104","k":"b","x":7000,"y":-0.2},
{"m":"CESM104","k":"g","x":1,"y":-0.5},{"m":"CESM104","k":"g","x":2,"y":0.2},{"m":"CESM104","k":"g","x":3,"y":-0.2},{"m":"CESM104","k":"g","x":5,"y":0.3},{"m":"CESM104","k":"g","x":8,"y":-0.4},{"m":"CESM104","k":"g","x":10,"y":-0.9},{"m":"CESM104","k":"g","x":15,"y":-0.3},{"m":"CESM104","k":"g","x":20,"y":0.4},{"m":"CESM104","k":"g","x":30,"y":0.6},{"m":"CESM104","k":"g","x":40,"y":-0.2},{"m":"CESM104","k":"g","x":50,"y":-0.8},{"m":"CESM104","k":"g","x":60,"y":0.2},{"m":"CESM104","k":"g","x":80,"y":-0.5},{"m":"CESM104","k":"g","x":100,"y":0.1},{"m":"CESM104","k":"g","x":120,"y":-1.0},{"m":"CESM104","k":"g","x":150,"y":-0.3},{"m":"CESM104","k":"g","x":200,"y":0.4},{"m":"CESM104","k":"g","x":250,"y":-0.7},{"m":"CESM104","k":"g","x":300,"y":-0.1},{"m":"CESM104","k":"g","x":400,"y":-1.2},{"m":"CESM104","k":"g","x":500,"y":0.2},{"m":"CESM104","k":"g","x":600,"y":-0.6},{"m":"CESM104","k":"g","x":800,"y":-0.2},{"m":"CESM104","k":"g","x":1000,"y":-0.9},

{"m":"CNRMCM61","k":"b","x":4,"y":6.0},{"m":"CNRMCM61","k":"b","x":5,"y":5.8},{"m":"CNRMCM61","k":"b","x":7,"y":5.3},{"m":"CNRMCM61","k":"b","x":10,"y":5.0},{"m":"CNRMCM61","k":"b","x":15,"y":5.1},{"m":"CNRMCM61","k":"b","x":20,"y":4.7},{"m":"CNRMCM61","k":"b","x":30,"y":4.5},{"m":"CNRMCM61","k":"b","x":40,"y":4.2},{"m":"CNRMCM61","k":"b","x":50,"y":4.6},{"m":"CNRMCM61","k":"b","x":70,"y":4.0},{"m":"CNRMCM61","k":"b","x":100,"y":3.8},{"m":"CNRMCM61","k":"b","x":100,"y":4.3},{"m":"CNRMCM61","k":"b","x":150,"y":3.6},{"m":"CNRMCM61","k":"b","x":200,"y":3.9},{"m":"CNRMCM61","k":"b","x":200,"y":3.3},{"m":"CNRMCM61","k":"b","x":300,"y":3.5},{"m":"CNRMCM61","k":"b","x":300,"y":3.0},{"m":"CNRMCM61","k":"b","x":400,"y":3.2},{"m":"CNRMCM61","k":"b","x":500,"y":2.8},{"m":"CNRMCM61","k":"b","x":500,"y":3.4},{"m":"CNRMCM61","k":"b","x":700,"y":3.0},{"m":"CNRMCM61","k":"b","x":800,"y":2.5},{"m":"CNRMCM61","k":"b","x":1000,"y":2.8},{"m":"CNRMCM61","k":"b","x":1000,"y":2.3},{"m":"CNRMCM61","k":"b","x":1300,"y":2.6},{"m":"CNRMCM61","k":"b","x":1500,"y":3.1},{"m":"CNRMCM61","k":"b","x":1800,"y":2.2},{"m":"CNRMCM61","k":"b","x":2000,"y":2.7},
{"m":"CNRMCM61","k":"g","x":1,"y":1.25},{"m":"CNRMCM61","k":"g","x":5,"y":1.5},{"m":"CNRMCM61","k":"g","x":8,"y":1.1},{"m":"CNRMCM61","k":"g","x":10,"y":1.7},{"m":"CNRMCM61","k":"g","x":15,"y":1.3},{"m":"CNRMCM61","k":"g","x":20,"y":1.0},{"m":"CNRMCM61","k":"g","x":30,"y":1.6},{"m":"CNRMCM61","k":"g","x":40,"y":1.2},{"m":"CNRMCM61","k":"g","x":50,"y":1.9},{"m":"CNRMCM61","k":"g","x":70,"y":0.9},{"m":"CNRMCM61","k":"g","x":100,"y":1.4},{"m":"CNRMCM61","k":"g","x":120,"y":1.8},{"m":"CNRMCM61","k":"g","x":150,"y":1.1},{"m":"CNRMCM61","k":"g","x":200,"y":0.6},{"m":"CNRMCM61","k":"g","x":250,"y":1.5},{"m":"CNRMCM61","k":"g","x":300,"y":1.9},{"m":"CNRMCM61","k":"g","x":400,"y":1.0},{"m":"CNRMCM61","k":"g","x":500,"y":1.6},{"m":"CNRMCM61","k":"g","x":700,"y":1.2},{"m":"CNRMCM61","k":"g","x":900,"y":0.8},{"m":"CNRMCM61","k":"g","x":1000,"y":1.7},{"m":"CNRMCM61","k":"g","x":1300,"y":1.3},{"m":"CNRMCM61","k":"g","x":1600,"y":0.9},{"m":"CNRMCM61","k":"g","x":2000,"y":1.5},{"m":"CNRMCM61","k":"g","x":2000,"y":2.0},

{"m":"ECEARTH","k":"b","x":1,"y":0.7},{"m":"ECEARTH","k":"b","x":250,"y":0.2},{"m":"ECEARTH","k":"b","x":280,"y":1.0},{"m":"ECEARTH","k":"b","x":300,"y":1.6},{"m":"ECEARTH","k":"b","x":330,"y":2.2},{"m":"ECEARTH","k":"b","x":350,"y":2.5},{"m":"ECEARTH","k":"b","x":350,"y":1.7},{"m":"ECEARTH","k":"b","x":380,"y":2.8},{"m":"ECEARTH","k":"b","x":400,"y":2.0},{"m":"ECEARTH","k":"b","x":420,"y":2.6},{"m":"ECEARTH","k":"b","x":450,"y":2.2},{"m":"ECEARTH","k":"b","x":450,"y":2.8},{"m":"ECEARTH","k":"b","x":480,"y":1.6},{"m":"ECEARTH","k":"b","x":500,"y":1.3},{"m":"ECEARTH","k":"b","x":550,"y":0.8},{"m":"ECEARTH","k":"b","x":550,"y":1.5},{"m":"ECEARTH","k":"b","x":600,"y":0.3},{"m":"ECEARTH","k":"b","x":650,"y":0.0},{"m":"ECEARTH","k":"b","x":700,"y":-0.3},{"m":"ECEARTH","k":"b","x":800,"y":-0.5},{"m":"ECEARTH","k":"b","x":900,"y":-0.7},{"m":"ECEARTH","k":"b","x":1000,"y":-0.4},{"m":"ECEARTH","k":"b","x":1100,"y":-0.7},{"m":"ECEARTH","k":"b","x":1300,"y":-0.5},{"m":"ECEARTH","k":"b","x":1500,"y":-0.8},{"m":"ECEARTH","k":"b","x":1600,"y":-0.6},
{"m":"ECEARTH","k":"g","x":1,"y":0.1},{"m":"ECEARTH","k":"g","x":10,"y":0.0},{"m":"ECEARTH","k":"g","x":15,"y":0.3},{"m":"ECEARTH","k":"g","x":20,"y":-0.2},{"m":"ECEARTH","k":"g","x":30,"y":0.2},{"m":"ECEARTH","k":"g","x":40,"y":-0.3},{"m":"ECEARTH","k":"g","x":50,"y":0.4},{"m":"ECEARTH","k":"g","x":60,"y":0.0},{"m":"ECEARTH","k":"g","x":70,"y":-0.4},{"m":"ECEARTH","k":"g","x":80,"y":0.2},{"m":"ECEARTH","k":"g","x":100,"y":0.3},{"m":"ECEARTH","k":"g","x":120,"y":-0.2},{"m":"ECEARTH","k":"g","x":150,"y":0.1},{"m":"ECEARTH","k":"g","x":200,"y":-0.3},{"m":"ECEARTH","k":"g","x":250,"y":0.3},{"m":"ECEARTH","k":"g","x":300,"y":0.0},{"m":"ECEARTH","k":"g","x":400,"y":-0.4},{"m":"ECEARTH","k":"g","x":500,"y":0.2},{"m":"ECEARTH","k":"g","x":600,"y":-0.2},{"m":"ECEARTH","k":"g","x":800,"y":0.1},{"m":"ECEARTH","k":"g","x":1000,"y":-0.3},

{"m":"ECHAM5MPIOM","k":"b","x":5,"y":5.6},{"m":"ECHAM5MPIOM","k":"b","x":8,"y":5.8},{"m":"ECHAM5MPIOM","k":"b","x":10,"y":5.4},{"m":"ECHAM5MPIOM","k":"b","x":15,"y":5.5},{"m":"ECHAM5MPIOM","k":"b","x":20,"y":5.0},{"m":"ECHAM5MPIOM","k":"b","x":30,"y":4.8},{"m":"ECHAM5MPIOM","k":"b","x":40,"y":4.6},{"m":"ECHAM5MPIOM","k":"b","x":50,"y":4.3},{"m":"ECHAM5MPIOM","k":"b","x":50,"y":5.0},{"m":"ECHAM5MPIOM","k":"b","x":70,"y":4.5},{"m":"ECHAM5MPIOM","k":"b","x":100,"y":4.0},{"m":"ECHAM5MPIOM","k":"b","x":100,"y":4.6},{"m":"ECHAM5MPIOM","k":"b","x":150,"y":3.8},{"m":"ECHAM5MPIOM","k":"b","x":200,"y":4.1},{"m":"ECHAM5MPIOM","k":"b","x":200,"y":3.5},{"m":"ECHAM5MPIOM","k":"b","x":300,"y":3.7},{"m":"ECHAM5MPIOM","k":"b","x":300,"y":3.2},{"m":"ECHAM5MPIOM","k":"b","x":400,"y":3.4},{"m":"ECHAM5MPIOM","k":"b","x":500,"y":2.8},{"m":"ECHAM5MPIOM","k":"b","x":500,"y":3.3},{"m":"ECHAM5MPIOM","k":"b","x":600,"y":2.5},{"m":"ECHAM5MPIOM","k":"b","x":700,"y":2.9},{"m":"ECHAM5MPIOM","k":"b","x":800,"y":2.2},{"m":"ECHAM5MPIOM","k":"b","x":900,"y":1.0},{"m":"ECHAM5MPIOM","k":"b","x":900,"y":1.6},{"m":"ECHAM5MPIOM","k":"b","x":1000,"y":2.0},{"m":"ECHAM5MPIOM","k":"b","x":1000,"y":2.6},
{"m":"ECHAM5MPIOM","k":"g","x":1,"y":1.0},{"m":"ECHAM5MPIOM","k":"g","x":5,"y":4.0},{"m":"ECHAM5MPIOM","k":"g","x":10,"y":2.0},{"m":"ECHAM5MPIOM","k":"g","x":12,"y":1.5},{"m":"ECHAM5MPIOM","k":"g","x":15,"y":2.9},{"m":"ECHAM5MPIOM","k":"g","x":20,"y":0.3},{"m":"ECHAM5MPIOM","k":"g","x":20,"y":2.3},{"m":"ECHAM5MPIOM","k":"g","x":25,"y":1.8},{"m":"ECHAM5MPIOM","k":"g","x":30,"y":2.5},{"m":"ECHAM5MPIOM","k":"g","x":30,"y":1.0},{"m":"ECHAM5MPIOM","k":"g","x":40,"y":1.3},{"m":"ECHAM5MPIOM","k":"g","x":40,"y":2.8},{"m":"ECHAM5MPIOM","k":"g","x":50,"y":1.7},{"m":"ECHAM5MPIOM","k":"g","x":50,"y":0.1},{"m":"ECHAM5MPIOM","k":"g","x":60,"y":2.2},{"m":"ECHAM5MPIOM","k":"g","x":70,"y":1.4},{"m":"ECHAM5MPIOM","k":"g","x":70,"y":3.0},{"m":"ECHAM5MPIOM","k":"g","x":80,"y":1.9},{"m":"ECHAM5MPIOM","k":"g","x":90,"y":1.1},{"m":"ECHAM5MPIOM","k":"g","x":100,"y":1.6},{"m":"ECHAM5MPIOM","k":"g","x":100,"y":2.4},

{"m":"FAMOUS","k":"b","x":3,"y":4.8},{"m":"FAMOUS","k":"b","x":4,"y":4.4},{"m":"FAMOUS","k":"b","x":5,"y":4.0},{"m":"FAMOUS","k":"b","x":8,"y":3.3},{"m":"FAMOUS","k":"b","x":10,"y":2.8},{"m":"FAMOUS","k":"b","x":15,"y":2.3},{"m":"FAMOUS","k":"b","x":20,"y":2.0},{"m":"FAMOUS","k":"b","x":30,"y":1.4},{"m":"FAMOUS","k":"b","x":40,"y":1.6},{"m":"FAMOUS","k":"b","x":50,"y":1.0},{"m":"FAMOUS","k":"b","x":70,"y":0.8},{"m":"FAMOUS","k":"b","x":100,"y":0.6},{"m":"FAMOUS","k":"b","x":100,"y":1.1},{"m":"FAMOUS","k":"b","x":150,"y":0.2},{"m":"FAMOUS","k":"b","x":200,"y":0.9},{"m":"FAMOUS","k":"b","x":300,"y":0.4},{"m":"FAMOUS","k":"b","x":400,"y":1.0},{"m":"FAMOUS","k":"b","x":500,"y":-0.1},{"m":"FAMOUS","k":"b","x":700,"y":0.6},{"m":"FAMOUS","k":"b","x":1000,"y":1.2},{"m":"FAMOUS","k":"b","x":1000,"y":0.0},{"m":"FAMOUS","k":"b","x":1200,"y":-0.6},{"m":"FAMOUS","k":"b","x":1500,"y":0.7},{"m":"FAMOUS","k":"b","x":2000,"y":-0.3},{"m":"FAMOUS","k":"b","x":2000,"y":1.1},{"m":"FAMOUS","k":"b","x":2500,"y":0.3},{"m":"FAMOUS","k":"b","x":3000,"y":-0.8},{"m":"FAMOUS","k":"b","x":3000,"y":0.8},{"m":"FAMOUS","k":"b","x":3500,"y":-0.2},{"m":"FAMOUS","k":"b","x":3500,"y":1.3},
{"m":"FAMOUS","k":"g","x":1,"y":-0.1},{"m":"FAMOUS","k":"g","x":3,"y":0.3},{"m":"FAMOUS","k":"g","x":5,"y":0.8},{"m":"FAMOUS","k":"g","x":7,"y":-0.3},{"m":"FAMOUS","k":"g","x":10,"y":0.1},{"m":"FAMOUS","k":"g","x":15,"y":-0.2},{"m":"FAMOUS","k":"g","x":20,"y":0.3},{"m":"FAMOUS","k":"g","x":30,"y":-0.5},{"m":"FAMOUS","k":"g","x":50,"y":0.2},{"m":"FAMOUS","k":"g","x":70,"y":-0.3},{"m":"FAMOUS","k":"g","x":100,"y":0.4},{"m":"FAMOUS","k":"g","x":150,"y":-0.6},{"m":"FAMOUS","k":"g","x":200,"y":-0.1},{"m":"FAMOUS","k":"g","x":300,"y":0.3},{"m":"FAMOUS","k":"g","x":400,"y":-0.7},{"m":"FAMOUS","k":"g","x":500,"y":-0.2},{"m":"FAMOUS","k":"g","x":700,"y":0.1},{"m":"FAMOUS","k":"g","x":1000,"y":-0.8},{"m":"FAMOUS","k":"g","x":1500,"y":-0.3},{"m":"FAMOUS","k":"g","x":2000,"y":0.2},{"m":"FAMOUS","k":"g","x":2500,"y":-1.0},{"m":"FAMOUS","k":"g","x":3000,"y":-0.4},{"m":"FAMOUS","k":"g","x":3500,"y":0.0},

{"m":"GFDLCM3","k":"b","x":1,"y":2.1},{"m":"GFDLCM3","k":"b","x":70,"y":1.9},{"m":"GFDLCM3","k":"b","x":80,"y":1.6},{"m":"GFDLCM3","k":"b","x":90,"y":1.2},{"m":"GFDLCM3","k":"b","x":100,"y":1.9},{"m":"GFDLCM3","k":"b","x":100,"y":0.7},{"m":"GFDLCM3","k":"b","x":120,"y":1.4},{"m":"GFDLCM3","k":"b","x":150,"y":0.9},{"m":"GFDLCM3","k":"b","x":150,"y":1.8},{"m":"GFDLCM3","k":"b","x":200,"y":1.3},{"m":"GFDLCM3","k":"b","x":250,"y":0.6},{"m":"GFDLCM3","k":"b","x":300,"y":1.1},{"m":"GFDLCM3","k":"b","x":400,"y":0.3},{"m":"GFDLCM3","k":"b","x":400,"y":1.5},{"m":"GFDLCM3","k":"b","x":500,"y":0.8},{"m":"GFDLCM3","k":"b","x":700,"y":0.2},{"m":"GFDLCM3","k":"b","x":700,"y":1.2},{"m":"GFDLCM3","k":"b","x":1000,"y":-0.3},{"m":"GFDLCM3","k":"b","x":1000,"y":0.9},{"m":"GFDLCM3","k":"b","x":1500,"y":0.4},{"m":"GFDLCM3","k":"b","x":2000,"y":-0.6},{"m":"GFDLCM3","k":"b","x":2000,"y":0.7},{"m":"GFDLCM3","k":"b","x":3000,"y":-0.2},{"m":"GFDLCM3","k":"b","x":3000,"y":0.5},{"m":"GFDLCM3","k":"b","x":4000,"y":-0.9},{"m":"GFDLCM3","k":"b","x":5000,"y":0.2},{"m":"GFDLCM3","k":"b","x":5000,"y":-0.5},{"m":"GFDLCM3","k":"b","x":6000,"y":0.0},
{"m":"GFDLCM3","k":"g","x":1,"y":0.7},{"m":"GFDLCM3","k":"g","x":3,"y":0.3},{"m":"GFDLCM3","k":"g","x":5,"y":-0.2},{"m":"GFDLCM3","k":"g","x":8,"y":0.6},{"m":"GFDLCM3","k":"g","x":10,"y":0.1},{"m":"GFDLCM3","k":"g","x":15,"y":0.8},{"m":"GFDLCM3","k":"g","x":20,"y":-0.4},{"m":"GFDLCM3","k":"g","x":30,"y":0.5},{"m":"GFDLCM3","k":"g","x":40,"y":-0.6},{"m":"GFDLCM3","k":"g","x":50,"y":0.9},{"m":"GFDLCM3","k":"g","x":70,"y":0.0},{"m":"GFDLCM3","k":"g","x":100,"y":-0.7},{"m":"GFDLCM3","k":"g","x":150,"y":0.6},{"m":"GFDLCM3","k":"g","x":200,"y":-0.3},{"m":"GFDLCM3","k":"g","x":300,"y":0.4},{"m":"GFDLCM3","k":"g","x":400,"y":-0.9},{"m":"GFDLCM3","k":"g","x":500,"y":0.8},{"m":"GFDLCM3","k":"g","x":700,"y":-0.5},{"m":"GFDLCM3","k":"g","x":1000,"y":0.3},{"m":"GFDLCM3","k":"g","x":1500,"y":-0.8},{"m":"GFDLCM3","k":"g","x":2000,"y":0.6},{"m":"GFDLCM3","k":"g","x":3000,"y":-0.4},{"m":"GFDLCM3","k":"g","x":5000,"y":0.1},

{"m":"GFDLESM2M","k":"b","x":1,"y":0.45},{"m":"GFDLESM2M","k":"b","x":5,"y":-1.1},{"m":"GFDLESM2M","k":"b","x":8,"y":-1.0},{"m":"GFDLESM2M","k":"b","x":10,"y":0.4},{"m":"GFDLESM2M","k":"b","x":20,"y":0.9},{"m":"GFDLESM2M","k":"b","x":30,"y":0.2},{"m":"GFDLESM2M","k":"b","x":40,"y":1.0},{"m":"GFDLESM2M","k":"b","x":50,"y":1.3},{"m":"GFDLESM2M","k":"b","x":60,"y":1.7},{"m":"GFDLESM2M","k":"b","x":70,"y":0.6},{"m":"GFDLESM2M","k":"b","x":80,"y":1.4},{"m":"GFDLESM2M","k":"b","x":100,"y":1.8},{"m":"GFDLESM2M","k":"b","x":100,"y":0.3},{"m":"GFDLESM2M","k":"b","x":150,"y":1.1},{"m":"GFDLESM2M","k":"b","x":200,"y":1.6},{"m":"GFDLESM2M","k":"b","x":200,"y":-0.2},{"m":"GFDLESM2M","k":"b","x":300,"y":0.9},{"m":"GFDLESM2M","k":"b","x":400,"y":-0.6},{"m":"GFDLESM2M","k":"b","x":500,"y":0.6},{"m":"GFDLESM2M","k":"b","x":700,"y":-0.9},{"m":"GFDLESM2M","k":"b","x":1000,"y":0.4},{"m":"GFDLESM2M","k":"b","x":1000,"y":-1.2},{"m":"GFDLESM2M","k":"b","x":1500,"y":0.8},{"m":"GFDLESM2M","k":"b","x":2000,"y":-0.5},{"m":"GFDLESM2M","k":"b","x":2000,"y":0.1},{"m":"GFDLESM2M","k":"b","x":3000,"y":-1.4},{"m":"GFDLESM2M","k":"b","x":3000,"y":0.6},{"m":"GFDLESM2M","k":"b","x":4000,"y":-0.8},{"m":"GFDLESM2M","k":"b","x":5000,"y":0.9},{"m":"GFDLESM2M","k":"b","x":5000,"y":-1.5},{"m":"GFDLESM2M","k":"b","x":5000,"y":0.0},
{"m":"GFDLESM2M","k":"g","x":1,"y":-0.4},{"m":"GFDLESM2M","k":"g","x":5,"y":0.6},{"m":"GFDLESM2M","k":"g","x":8,"y":-0.5},{"m":"GFDLESM2M","k":"g","x":10,"y":0.3},{"m":"GFDLESM2M","k":"g","x":15,"y":-1.1},{"m":"GFDLESM2M","k":"g","x":20,"y":0.0},{"m":"GFDLESM2M","k":"g","x":30,"y":-0.8},{"m":"GFDLESM2M","k":"g","x":40,"y":0.5},{"m":"GFDLESM2M","k":"g","x":50,"y":-1.3},{"m":"GFDLESM2M","k":"g","x":60,"y":-0.2},{"m":"GFDLESM2M","k":"g","x":80,"y":0.3},{"m":"GFDLESM2M","k":"g","x":100,"y":-1.0},{"m":"GFDLESM2M","k":"g","x":120,"y":0.8},{"m":"GFDLESM2M","k":"g","x":150,"y":-0.6},{"m":"GFDLESM2M","k":"g","x":200,"y":-1.5},{"m":"GFDLESM2M","k":"g","x":250,"y":0.1},{"m":"GFDLESM2M","k":"g","x":300,"y":-0.9},{"m":"GFDLESM2M","k":"g","x":400,"y":-0.3},{"m":"GFDLESM2M","k":"g","x":500,"y":-1.7},{"m":"GFDLESM2M","k":"g","x":700,"y":0.2},{"m":"GFDLESM2M","k":"g","x":1000,"y":-1.1},

{"m":"GISSE2R","k":"b","x":2,"y":4.6},{"m":"GISSE2R","k":"b","x":3,"y":4.2},{"m":"GISSE2R","k":"b","x":5,"y":3.8},{"m":"GISSE2R","k":"b","x":8,"y":3.0},{"m":"GISSE2R","k":"b","x":10,"y":2.7},{"m":"GISSE2R","k":"b","x":15,"y":2.9},{"m":"GISSE2R","k":"b","x":20,"y":2.6},{"m":"GISSE2R","k":"b","x":30,"y":2.4},{"m":"GISSE2R","k":"b","x":40,"y":2.6},{"m":"GISSE2R","k":"b","x":50,"y":2.0},{"m":"GISSE2R","k":"b","x":70,"y":2.3},{"m":"GISSE2R","k":"b","x":100,"y":1.7},{"m":"GISSE2R","k":"b","x":100,"y":1.3},{"m":"GISSE2R","k":"b","x":150,"y":1.9},{"m":"GISSE2R","k":"b","x":200,"y":1.1},{"m":"GISSE2R","k":"b","x":300,"y":1.3},{"m":"GISSE2R","k":"b","x":300,"y":0.6},{"m":"GISSE2R","k":"b","x":500,"y":0.9},{"m":"GISSE2R","k":"b","x":500,"y":0.3},{"m":"GISSE2R","k":"b","x":700,"y":0.6},{"m":"GISSE2R","k":"b","x":1000,"y":0.1},{"m":"GISSE2R","k":"b","x":1000,"y":0.8},{"m":"GISSE2R","k":"b","x":1500,"y":-0.2},{"m":"GISSE2R","k":"b","x":2000,"y":0.6},{"m":"GISSE2R","k":"b","x":2000,"y":0.0},{"m":"GISSE2R","k":"b","x":3000,"y":-0.5},{"m":"GISSE2R","k":"b","x":3000,"y":0.4},{"m":"GISSE2R","k":"b","x":4000,"y":0.7},{"m":"GISSE2R","k":"b","x":5000,"y":-0.3},{"m":"GISSE2R","k":"b","x":5000,"y":0.2},
{"m":"GISSE2R","k":"g","x":1,"y":0.25},{"m":"GISSE2R","k":"g","x":2,"y":-0.3},{"m":"GISSE2R","k":"g","x":5,"y":0.4},{"m":"GISSE2R","k":"g","x":10,"y":0.0},{"m":"GISSE2R","k":"g","x":15,"y":0.5},{"m":"GISSE2R","k":"g","x":20,"y":-0.2},{"m":"GISSE2R","k":"g","x":30,"y":0.7},{"m":"GISSE2R","k":"g","x":40,"y":-0.5},{"m":"GISSE2R","k":"g","x":60,"y":0.3},{"m":"GISSE2R","k":"g","x":80,"y":-0.7},{"m":"GISSE2R","k":"g","x":100,"y":0.8},{"m":"GISSE2R","k":"g","x":150,"y":-0.3},{"m":"GISSE2R","k":"g","x":200,"y":0.5},{"m":"GISSE2R","k":"g","x":300,"y":-0.8},{"m":"GISSE2R","k":"g","x":400,"y":0.2},{"m":"GISSE2R","k":"g","x":500,"y":-0.6},{"m":"GISSE2R","k":"g","x":700,"y":0.9},{"m":"GISSE2R","k":"g","x":1000,"y":-0.9},{"m":"GISSE2R","k":"g","x":1500,"y":0.5},{"m":"GISSE2R","k":"g","x":2000,"y":-0.7},{"m":"GISSE2R","k":"g","x":3000,"y":0.8},{"m":"GISSE2R","k":"g","x":4000,"y":-1.0},{"m":"GISSE2R","k":"g","x":5000,"y":0.6},{"m":"GISSE2R","k":"g","x":5000,"y":-0.4},

{"m":"HadCM3L","k":"b","x":3,"y":4.5},{"m":"HadCM3L","k":"b","x":5,"y":3.9},{"m":"HadCM3L","k":"b","x":8,"y":3.2},{"m":"HadCM3L","k":"b","x":10,"y":2.8},{"m":"HadCM3L","k":"b","x":15,"y":2.5},{"m":"HadCM3L","k":"b","x":20,"y":2.2},{"m":"HadCM3L","k":"b","x":30,"y":2.5},{"m":"HadCM3L","k":"b","x":40,"y":2.0},{"m":"HadCM3L","k":"b","x":50,"y":2.3},{"m":"HadCM3L","k":"b","x":70,"y":1.8},{"m":"HadCM3L","k":"b","x":80,"y":2.6},{"m":"HadCM3L","k":"b","x":100,"y":2.1},{"m":"HadCM3L","k":"b","x":100,"y":1.4},{"m":"HadCM3L","k":"b","x":150,"y":1.8},{"m":"HadCM3L","k":"b","x":200,"y":2.3},{"m":"HadCM3L","k":"b","x":200,"y":1.3},{"m":"HadCM3L","k":"b","x":300,"y":1.6},{"m":"HadCM3L","k":"b","x":300,"y":1.0},{"m":"HadCM3L","k":"b","x":400,"y":2.0},{"m":"HadCM3L","k":"b","x":500,"y":1.2},{"m":"HadCM3L","k":"b","x":500,"y":0.7},{"m":"HadCM3L","k":"b","x":700,"y":1.5},{"m":"HadCM3L","k":"b","x":700,"y":0.9},{"m":"HadCM3L","k":"b","x":900,"y":0.5},{"m":"HadCM3L","k":"b","x":1000,"y":1.2},{"m":"HadCM3L","k":"b","x":1000,"y":1.6},
{"m":"HadCM3L","k":"g","x":1,"y":-0.45},{"m":"HadCM3L","k":"g","x":5,"y":-0.8},{"m":"HadCM3L","k":"g","x":8,"y":0.6},{"m":"HadCM3L","k":"g","x":10,"y":-0.2},{"m":"HadCM3L","k":"g","x":15,"y":0.4},{"m":"HadCM3L","k":"g","x":20,"y":-1.1},{"m":"HadCM3L","k":"g","x":30,"y":0.2},{"m":"HadCM3L","k":"g","x":40,"y":0.9},{"m":"HadCM3L","k":"g","x":50,"y":-0.5},{"m":"HadCM3L","k":"g","x":60,"y":0.5},{"m":"HadCM3L","k":"g","x":70,"y":1.0},{"m":"HadCM3L","k":"g","x":100,"y":-0.3},{"m":"HadCM3L","k":"g","x":120,"y":0.6},{"m":"HadCM3L","k":"g","x":150,"y":-0.9},{"m":"HadCM3L","k":"g","x":200,"y":0.3},{"m":"HadCM3L","k":"g","x":300,"y":-0.6},{"m":"HadCM3L","k":"g","x":400,"y":0.7},{"m":"HadCM3L","k":"g","x":500,"y":-0.2},{"m":"HadCM3L","k":"g","x":600,"y":-1.0},{"m":"HadCM3L","k":"g","x":700,"y":0.4},{"m":"HadCM3L","k":"g","x":800,"y":-0.5},{"m":"HadCM3L","k":"g","x":1000,"y":0.8},{"m":"HadCM3L","k":"g","x":1000,"y":-0.8},

{"m":"HadGEM2","k":"b","x":5,"y":4.4},{"m":"HadGEM2","k":"b","x":7,"y":4.1},{"m":"HadGEM2","k":"b","x":10,"y":3.8},{"m":"HadGEM2","k":"b","x":15,"y":3.4},{"m":"HadGEM2","k":"b","x":20,"y":3.0},{"m":"HadGEM2","k":"b","x":30,"y":2.9},{"m":"HadGEM2","k":"b","x":40,"y":2.7},{"m":"HadGEM2","k":"b","x":50,"y":2.9},{"m":"HadGEM2","k":"b","x":60,"y":2.5},{"m":"HadGEM2","k":"b","x":80,"y":2.7},{"m":"HadGEM2","k":"b","x":100,"y":2.2},{"m":"HadGEM2","k":"b","x":100,"y":2.6},{"m":"HadGEM2","k":"b","x":150,"y":2.4},{"m":"HadGEM2","k":"b","x":150,"y":1.9},{"m":"HadGEM2","k":"b","x":200,"y":2.0},{"m":"HadGEM2","k":"b","x":300,"y":1.5},{"m":"HadGEM2","k":"b","x":300,"y":1.9},{"m":"HadGEM2","k":"b","x":400,"y":1.7},{"m":"HadGEM2","k":"b","x":500,"y":1.2},{"m":"HadGEM2","k":"b","x":500,"y":1.6},{"m":"HadGEM2","k":"b","x":700,"y":1.4},{"m":"HadGEM2","k":"b","x":700,"y":0.9},{"m":"HadGEM2","k":"b","x":1000,"y":1.1},{"m":"HadGEM2","k":"b","x":1000,"y":0.6},{"m":"HadGEM2","k":"b","x":1200,"y":1.4},{"m":"HadGEM2","k":"b","x":1500,"y":0.9},
{"m":"HadGEM2","k":"g","x":1,"y":0.5},{"m":"HadGEM2","k":"g","x":5,"y":0.9},{"m":"HadGEM2","k":"g","x":8,"y":0.2},{"m":"HadGEM2","k":"g","x":10,"y":0.6},{"m":"HadGEM2","k":"g","x":15,"y":-0.1},{"m":"HadGEM2","k":"g","x":20,"y":0.8},{"m":"HadGEM2","k":"g","x":30,"y":0.3},{"m":"HadGEM2","k":"g","x":40,"y":-0.3},{"m":"HadGEM2","k":"g","x":50,"y":0.6},{"m":"HadGEM2","k":"g","x":60,"y":0.1},{"m":"HadGEM2","k":"g","x":70,"y":0.9},{"m":"HadGEM2","k":"g","x":80,"y":0.4},{"m":"HadGEM2","k":"g","x":100,"y":-0.2},{"m":"HadGEM2","k":"g","x":120,"y":0.7},{"m":"HadGEM2","k":"g","x":150,"y":0.2},{"m":"HadGEM2","k":"g","x":200,"y":1.0},{"m":"HadGEM2","k":"g","x":200,"y":-0.1},{"m":"HadGEM2","k":"g","x":250,"y":0.5},

{"m":"IPSLCM5A","k":"b","x":5,"y":4.6},{"m":"IPSLCM5A","k":"b","x":7,"y":4.3},{"m":"IPSLCM5A","k":"b","x":10,"y":3.9},{"m":"IPSLCM5A","k":"b","x":15,"y":3.7},{"m":"IPSLCM5A","k":"b","x":20,"y":3.2},{"m":"IPSLCM5A","k":"b","x":30,"y":3.0},{"m":"IPSLCM5A","k":"b","x":40,"y":2.7},{"m":"IPSLCM5A","k":"b","x":50,"y":3.1},{"m":"IPSLCM5A","k":"b","x":70,"y":2.5},{"m":"IPSLCM5A","k":"b","x":100,"y":2.2},{"m":"IPSLCM5A","k":"b","x":100,"y":2.7},{"m":"IPSLCM5A","k":"b","x":150,"y":2.0},{"m":"IPSLCM5A","k":"b","x":150,"y":2.5},{"m":"IPSLCM5A","k":"b","x":200,"y":1.8},{"m":"IPSLCM5A","k":"b","x":200,"y":2.3},{"m":"IPSLCM5A","k":"b","x":300,"y":1.7},{"m":"IPSLCM5A","k":"b","x":300,"y":2.1},{"m":"IPSLCM5A","k":"b","x":400,"y":1.5},{"m":"IPSLCM5A","k":"b","x":500,"y":1.9},{"m":"IPSLCM5A","k":"b","x":500,"y":1.3},{"m":"IPSLCM5A","k":"b","x":700,"y":1.6},{"m":"IPSLCM5A","k":"b","x":700,"y":1.0},{"m":"IPSLCM5A","k":"b","x":900,"y":1.4},{"m":"IPSLCM5A","k":"b","x":1000,"y":0.7},{"m":"IPSLCM5A","k":"b","x":1000,"y":1.1},
{"m":"IPSLCM5A","k":"g","x":5,"y":-0.3},{"m":"IPSLCM5A","k":"g","x":10,"y":0.6},{"m":"IPSLCM5A","k":"g","x":15,"y":-0.2},{"m":"IPSLCM5A","k":"g","x":20,"y":0.9},{"m":"IPSLCM5A","k":"g","x":30,"y":0.3},{"m":"IPSLCM5A","k":"g","x":40,"y":0.1},{"m":"IPSLCM5A","k":"g","x":50,"y":0.5},{"m":"IPSLCM5A","k":"g","x":60,"y":-0.1},{"m":"IPSLCM5A","k":"g","x":70,"y":0.7},{"m":"IPSLCM5A","k":"g","x":100,"y":0.2},{"m":"IPSLCM5A","k":"g","x":120,"y":-0.3},{"m":"IPSLCM5A","k":"g","x":150,"y":0.6},{"m":"IPSLCM5A","k":"g","x":200,"y":0.0},{"m":"IPSLCM5A","k":"g","x":250,"y":0.8},{"m":"IPSLCM5A","k":"g","x":300,"y":0.3},{"m":"IPSLCM5A","k":"g","x":400,"y":-0.2},{"m":"IPSLCM5A","k":"g","x":500,"y":0.5},{"m":"IPSLCM5A","k":"g","x":600,"y":0.1},{"m":"IPSLCM5A","k":"g","x":700,"y":-0.4},{"m":"IPSLCM5A","k":"g","x":800,"y":0.6},{"m":"IPSLCM5A","k":"g","x":1000,"y":0.2},{"m":"IPSLCM5A","k":"g","x":1000,"y":-0.3},

{"m":"MIROC32","k":"b","x":1,"y":1.1},{"m":"MIROC32","k":"b","x":3,"y":1.1},{"m":"MIROC32","k":"b","x":10,"y":1.3},{"m":"MIROC32","k":"b","x":15,"y":1.5},{"m":"MIROC32","k":"b","x":20,"y":1.7},{"m":"MIROC32","k":"b","x":30,"y":2.0},{"m":"MIROC32","k":"b","x":40,"y":2.2},{"m":"MIROC32","k":"b","x":50,"y":2.5},{"m":"MIROC32","k":"b","x":60,"y":2.7},{"m":"MIROC32","k":"b","x":70,"y":2.9},{"m":"MIROC32","k":"b","x":80,"y":3.1},{"m":"MIROC32","k":"b","x":100,"y":3.3},{"m":"MIROC32","k":"b","x":120,"y":3.6},{"m":"MIROC32","k":"b","x":140,"y":3.8},{"m":"MIROC32","k":"b","x":160,"y":3.4},{"m":"MIROC32","k":"b","x":200,"y":3.2},{"m":"MIROC32","k":"b","x":250,"y":3.0},{"m":"MIROC32","k":"b","x":300,"y":2.8},{"m":"MIROC32","k":"b","x":350,"y":2.6},{"m":"MIROC32","k":"b","x":400,"y":2.9},{"m":"MIROC32","k":"b","x":500,"y":2.3},{"m":"MIROC32","k":"b","x":600,"y":2.5},{"m":"MIROC32","k":"b","x":700,"y":1.9},{"m":"MIROC32","k":"b","x":800,"y":2.2},{"m":"MIROC32","k":"b","x":1000,"y":1.6},{"m":"MIROC32","k":"b","x":1200,"y":1.9},{"m":"MIROC32","k":"b","x":1500,"y":1.4},{"m":"MIROC32","k":"b","x":2000,"y":1.6},{"m":"MIROC32","k":"b","x":2500,"y":1.3},
{"m":"MIROC32","k":"g","x":1,"y":1.2},{"m":"MIROC32","k":"g","x":2,"y":0.9},{"m":"MIROC32","k":"g","x":3,"y":0.6},{"m":"MIROC32","k":"g","x":5,"y":1.3},{"m":"MIROC32","k":"g","x":8,"y":0.8},{"m":"MIROC32","k":"g","x":10,"y":1.5},{"m":"MIROC32","k":"g","x":15,"y":0.5},{"m":"MIROC32","k":"g","x":20,"y":1.1},{"m":"MIROC32","k":"g","x":30,"y":1.7},{"m":"MIROC32","k":"g","x":40,"y":0.7},{"m":"MIROC32","k":"g","x":50,"y":1.4},{"m":"MIROC32","k":"g","x":60,"y":0.4},{"m":"MIROC32","k":"g","x":80,"y":1.2},{"m":"MIROC32","k":"g","x":100,"y":0.8},{"m":"MIROC32","k":"g","x":120,"y":1.8},{"m":"MIROC32","k":"g","x":150,"y":0.6},{"m":"MIROC32","k":"g","x":200,"y":1.3},{"m":"MIROC32","k":"g","x":250,"y":0.9},{"m":"MIROC32","k":"g","x":300,"y":0.5},{"m":"MIROC32","k":"g","x":400,"y":1.5},{"m":"MIROC32","k":"g","x":500,"y":0.8},{"m":"MIROC32","k":"g","x":600,"y":1.2},{"m":"MIROC32","k":"g","x":700,"y":0.6},

{"m":"MPIESM11","k":"b","x":5,"y":4.6},{"m":"MPIESM11","k":"b","x":7,"y":4.0},{"m":"MPIESM11","k":"b","x":10,"y":3.6},{"m":"MPIESM11","k":"b","x":15,"y":3.4},{"m":"MPIESM11","k":"b","x":20,"y":3.1},{"m":"MPIESM11","k":"b","x":30,"y":2.8},{"m":"MPIESM11","k":"b","x":40,"y":3.0},{"m":"MPIESM11","k":"b","x":50,"y":2.5},{"m":"MPIESM11","k":"b","x":70,"y":2.8},{"m":"MPIESM11","k":"b","x":100,"y":2.0},{"m":"MPIESM11","k":"b","x":100,"y":2.7},{"m":"MPIESM11","k":"b","x":150,"y":2.3},{"m":"MPIESM11","k":"b","x":200,"y":1.6},{"m":"MPIESM11","k":"b","x":200,"y":2.4},{"m":"MPIESM11","k":"b","x":300,"y":1.4},{"m":"MPIESM11","k":"b","x":300,"y":2.0},{"m":"MPIESM11","k":"b","x":500,"y":1.0},{"m":"MPIESM11","k":"b","x":500,"y":1.7},{"m":"MPIESM11","k":"b","x":700,"y":1.3},{"m":"MPIESM11","k":"b","x":1000,"y":0.4},{"m":"MPIESM11","k":"b","x":1000,"y":1.2},{"m":"MPIESM11","k":"b","x":1500,"y":0.8},{"m":"MPIESM11","k":"b","x":2000,"y":0.1},{"m":"MPIESM11","k":"b","x":2000,"y":1.0},{"m":"MPIESM11","k":"b","x":3000,"y":-0.3},{"m":"MPIESM11","k":"b","x":3000,"y":0.7},{"m":"MPIESM11","k":"b","x":4000,"y":1.2},{"m":"MPIESM11","k":"b","x":5000,"y":-0.5},{"m":"MPIESM11","k":"b","x":5000,"y":0.5},
{"m":"MPIESM11","k":"g","x":1,"y":0.55},{"m":"MPIESM11","k":"g","x":10,"y":0.3},{"m":"MPIESM11","k":"g","x":15,"y":0.8},{"m":"MPIESM11","k":"g","x":20,"y":1.2},{"m":"MPIESM11","k":"g","x":30,"y":0.1},{"m":"MPIESM11","k":"g","x":40,"y":0.6},{"m":"MPIESM11","k":"g","x":50,"y":1.0},{"m":"MPIESM11","k":"g","x":60,"y":-0.2},{"m":"MPIESM11","k":"g","x":70,"y":0.5},{"m":"MPIESM11","k":"g","x":100,"y":0.9},{"m":"MPIESM11","k":"g","x":120,"y":0.0},{"m":"MPIESM11","k":"g","x":150,"y":0.4},{"m":"MPIESM11","k":"g","x":200,"y":-0.4},{"m":"MPIESM11","k":"g","x":250,"y":0.7},{"m":"MPIESM11","k":"g","x":300,"y":0.1},{"m":"MPIESM11","k":"g","x":400,"y":-0.6},{"m":"MPIESM11","k":"g","x":500,"y":0.3},{"m":"MPIESM11","k":"g","x":700,"y":-0.2},{"m":"MPIESM11","k":"g","x":1000,"y":0.2},{"m":"MPIESM11","k":"g","x":1500,"y":-0.5},{"m":"MPIESM11","k":"g","x":2000,"y":-0.1},

{"m":"MPIESM12","k":"b","x":5,"y":4.9},{"m":"MPIESM12","k":"b","x":7,"y":4.4},{"m":"MPIESM12","k":"b","x":10,"y":3.9},{"m":"MPIESM12","k":"b","x":15,"y":3.5},{"m":"MPIESM12","k":"b","x":20,"y":3.3},{"m":"MPIESM12","k":"b","x":30,"y":3.2},{"m":"MPIESM12","k":"b","x":40,"y":2.8},{"m":"MPIESM12","k":"b","x":50,"y":3.0},{"m":"MPIESM12","k":"b","x":70,"y":2.6},{"m":"MPIESM12","k":"b","x":100,"y":2.3},{"m":"MPIESM12","k":"b","x":100,"y":2.7},{"m":"MPIESM12","k":"b","x":150,"y":2.1},{"m":"MPIESM12","k":"b","x":200,"y":2.3},{"m":"MPIESM12","k":"b","x":200,"y":1.8},{"m":"MPIESM12","k":"b","x":300,"y":1.7},{"m":"MPIESM12","k":"b","x":300,"y":2.1},{"m":"MPIESM12","k":"b","x":400,"y":1.4},{"m":"MPIESM12","k":"b","x":500,"y":1.2},{"m":"MPIESM12","k":"b","x":500,"y":1.7},{"m":"MPIESM12","k":"b","x":700,"y":1.0},{"m":"MPIESM12","k":"b","x":700,"y":1.4},{"m":"MPIESM12","k":"b","x":900,"y":0.6},{"m":"MPIESM12","k":"b","x":1000,"y":1.1},{"m":"MPIESM12","k":"b","x":1000,"y":0.3},
{"m":"MPIESM12","k":"g","x":1,"y":0.5},{"m":"MPIESM12","k":"g","x":3,"y":0.3},{"m":"MPIESM12","k":"g","x":5,"y":0.8},{"m":"MPIESM12","k":"g","x":8,"y":0.2},{"m":"MPIESM12","k":"g","x":10,"y":0.9},{"m":"MPIESM12","k":"g","x":15,"y":0.4},{"m":"MPIESM12","k":"g","x":20,"y":1.1},{"m":"MPIESM12","k":"g","x":30,"y":-0.6},{"m":"MPIESM12","k":"g","x":40,"y":0.6},{"m":"MPIESM12","k":"g","x":50,"y":0.1},{"m":"MPIESM12","k":"g","x":70,"y":0.9},{"m":"MPIESM12","k":"g","x":100,"y":0.3},{"m":"MPIESM12","k":"g","x":120,"y":1.3},{"m":"MPIESM12","k":"g","x":150,"y":-0.1},{"m":"MPIESM12","k":"g","x":200,"y":0.7},{"m":"MPIESM12","k":"g","x":300,"y":0.2},{"m":"MPIESM12","k":"g","x":400,"y":-0.3},{"m":"MPIESM12","k":"g","x":500,"y":0.8},{"m":"MPIESM12","k":"g","x":700,"y":0.0},{"m":"MPIESM12","k":"g","x":800,"y":-0.6},{"m":"MPIESM12","k":"g","x":1000,"y":0.4},

{"m":"CCSM3","k":"b","x":150,"y":1.2},{"m":"CCSM3","k":"b","x":200,"y":1.6},{"m":"CCSM3","k":"b","x":300,"y":0.9},{"m":"CCSM3","k":"b","x":400,"y":0.7},{"m":"CCSM3","k":"b","x":600,"y":1.1},{"m":"CCSM3","k":"b","x":700,"y":0.5},{"m":"CCSM3","k":"b","x":900,"y":0.9},{"m":"CCSM3","k":"b","x":1100,"y":0.7},{"m":"CCSM3","k":"b","x":1300,"y":0.0},{"m":"CCSM3","k":"b","x":1600,"y":0.4},{"m":"CCSM3","k":"b","x":2000,"y":0.8},{"m":"CCSM3","k":"b","x":2300,"y":0.0},
{"m":"CCSM3","k":"g","x":200,"y":0.3},{"m":"CCSM3","k":"g","x":300,"y":-0.4},{"m":"CCSM3","k":"g","x":500,"y":-0.6},{"m":"CCSM3","k":"g","x":700,"y":0.3},{"m":"CCSM3","k":"g","x":900,"y":-0.6},{"m":"CCSM3","k":"g","x":1100,"y":0.0},
{"m":"CESM104","k":"b","x":150,"y":1.6},{"m":"CESM104","k":"b","x":300,"y":0.7},{"m":"CESM104","k":"b","x":400,"y":1.3},{"m":"CESM104","k":"b","x":600,"y":0.6},{"m":"CESM104","k":"b","x":1000,"y":1.0},{"m":"CESM104","k":"b","x":1000,"y":0.0},{"m":"CESM104","k":"b","x":1500,"y":0.4},{"m":"CESM104","k":"b","x":2000,"y":1.0},{"m":"CESM104","k":"b","x":2500,"y":0.5},{"m":"CESM104","k":"b","x":3000,"y":-0.1},{"m":"CESM104","k":"b","x":4000,"y":0.9},{"m":"CESM104","k":"b","x":6000,"y":-0.6},{"m":"CESM104","k":"b","x":7000,"y":0.6},{"m":"CESM104","k":"b","x":3500,"y":0.3},
{"m":"CESM104","k":"g","x":150,"y":0.3},{"m":"CESM104","k":"g","x":300,"y":-0.8},{"m":"CESM104","k":"g","x":500,"y":-0.3},{"m":"CESM104","k":"g","x":700,"y":0.1},{"m":"CESM104","k":"g","x":900,"y":-0.4},{"m":"CESM104","k":"g","x":200,"y":-0.9},
{"m":"CNRMCM61","k":"b","x":150,"y":4.1},{"m":"CNRMCM61","k":"b","x":250,"y":3.6},{"m":"CNRMCM61","k":"b","x":400,"y":2.9},{"m":"CNRMCM61","k":"b","x":600,"y":3.2},{"m":"CNRMCM61","k":"b","x":700,"y":2.6},{"m":"CNRMCM61","k":"b","x":1200,"y":2.9},{"m":"CNRMCM61","k":"b","x":1500,"y":2.4},{"m":"CNRMCM61","k":"b","x":2000,"y":2.4},{"m":"CNRMCM61","k":"b","x":1700,"y":2.8},{"m":"CNRMCM61","k":"b","x":900,"y":3.2},
{"m":"CNRMCM61","k":"g","x":600,"y":1.1},{"m":"CNRMCM61","k":"g","x":800,"y":1.5},{"m":"CNRMCM61","k":"g","x":1100,"y":1.2},{"m":"CNRMCM61","k":"g","x":1500,"y":1.7},{"m":"CNRMCM61","k":"g","x":1800,"y":1.1},{"m":"CNRMCM61","k":"g","x":1200,"y":0.9},
{"m":"ECHAM5MPIOM","k":"b","x":150,"y":4.3},{"m":"ECHAM5MPIOM","k":"b","x":250,"y":3.8},{"m":"ECHAM5MPIOM","k":"b","x":400,"y":3.0},{"m":"ECHAM5MPIOM","k":"b","x":600,"y":3.0},{"m":"ECHAM5MPIOM","k":"b","x":700,"y":2.3},{"m":"ECHAM5MPIOM","k":"b","x":800,"y":2.7},{"m":"ECHAM5MPIOM","k":"b","x":60,"y":4.7},{"m":"ECHAM5MPIOM","k":"b","x":120,"y":4.2},
{"m":"FAMOUS","k":"b","x":150,"y":0.8},{"m":"FAMOUS","k":"b","x":250,"y":0.6},{"m":"FAMOUS","k":"b","x":400,"y":0.3},{"m":"FAMOUS","k":"b","x":600,"y":1.1},{"m":"FAMOUS","k":"b","x":800,"y":0.2},{"m":"FAMOUS","k":"b","x":1200,"y":0.5},{"m":"FAMOUS","k":"b","x":1500,"y":-0.2},{"m":"FAMOUS","k":"b","x":1800,"y":0.9},{"m":"FAMOUS","k":"b","x":2500,"y":1.0},{"m":"FAMOUS","k":"b","x":2500,"y":-0.5},{"m":"FAMOUS","k":"b","x":3000,"y":0.2},{"m":"FAMOUS","k":"b","x":3500,"y":0.6},{"m":"FAMOUS","k":"b","x":500,"y":0.6},{"m":"FAMOUS","k":"b","x":700,"y":-0.3},
{"m":"FAMOUS","k":"g","x":600,"y":-0.5},{"m":"FAMOUS","k":"g","x":800,"y":0.0},{"m":"FAMOUS","k":"g","x":1200,"y":-0.5},{"m":"FAMOUS","k":"g","x":1800,"y":-0.8},{"m":"FAMOUS","k":"g","x":2800,"y":-0.1},{"m":"FAMOUS","k":"g","x":3300,"y":-0.7},
{"m":"GFDLCM3","k":"b","x":150,"y":1.3},{"m":"GFDLCM3","k":"b","x":250,"y":1.6},{"m":"GFDLCM3","k":"b","x":300,"y":0.4},{"m":"GFDLCM3","k":"b","x":500,"y":1.3},{"m":"GFDLCM3","k":"b","x":600,"y":0.5},{"m":"GFDLCM3","k":"b","x":800,"y":0.8},{"m":"GFDLCM3","k":"b","x":1200,"y":0.1},{"m":"GFDLCM3","k":"b","x":1500,"y":0.9},{"m":"GFDLCM3","k":"b","x":2500,"y":0.2},{"m":"GFDLCM3","k":"b","x":3500,"y":0.7},{"m":"GFDLCM3","k":"b","x":4000,"y":-0.3},{"m":"GFDLCM3","k":"b","x":6000,"y":-0.6},{"m":"GFDLCM3","k":"b","x":5000,"y":0.6},
{"m":"GFDLCM3","k":"g","x":200,"y":0.5},{"m":"GFDLCM3","k":"g","x":300,"y":-0.6},{"m":"GFDLCM3","k":"g","x":600,"y":0.2},{"m":"GFDLCM3","k":"g","x":800,"y":0.6},{"m":"GFDLCM3","k":"g","x":1200,"y":-0.4},{"m":"GFDLCM3","k":"g","x":2500,"y":0.1},{"m":"GFDLCM3","k":"g","x":4000,"y":-0.7},
{"m":"GFDLESM2M","k":"b","x":150,"y":0.5},{"m":"GFDLESM2M","k":"b","x":250,"y":1.3},{"m":"GFDLESM2M","k":"b","x":300,"y":0.0},{"m":"GFDLESM2M","k":"b","x":500,"y":-0.3},{"m":"GFDLESM2M","k":"b","x":600,"y":1.0},{"m":"GFDLESM2M","k":"b","x":800,"y":0.1},{"m":"GFDLESM2M","k":"b","x":1200,"y":-0.5},{"m":"GFDLESM2M","k":"b","x":1500,"y":-1.0},{"m":"GFDLESM2M","k":"b","x":2500,"y":0.5},{"m":"GFDLESM2M","k":"b","x":3500,"y":-0.3},{"m":"GFDLESM2M","k":"b","x":4000,"y":0.3},{"m":"GFDLESM2M","k":"b","x":5000,"y":-0.7},{"m":"GFDLESM2M","k":"b","x":2000,"y":-1.2},
{"m":"GFDLESM2M","k":"g","x":200,"y":-0.3},{"m":"GFDLESM2M","k":"g","x":350,"y":-1.3},{"m":"GFDLESM2M","k":"g","x":600,"y":-0.8},{"m":"GFDLESM2M","k":"g","x":800,"y":-0.4},
{"m":"GISSE2R","k":"b","x":150,"y":1.5},{"m":"GISSE2R","k":"b","x":200,"y":1.6},{"m":"GISSE2R","k":"b","x":400,"y":1.0},{"m":"GISSE2R","k":"b","x":700,"y":0.2},{"m":"GISSE2R","k":"b","x":1200,"y":0.5},{"m":"GISSE2R","k":"b","x":1500,"y":0.3},{"m":"GISSE2R","k":"b","x":2500,"y":-0.2},{"m":"GISSE2R","k":"b","x":3500,"y":0.0},{"m":"GISSE2R","k":"b","x":4000,"y":-0.1},{"m":"GISSE2R","k":"b","x":4500,"y":0.5},{"m":"GISSE2R","k":"b","x":2500,"y":0.4},
{"m":"GISSE2R","k":"g","x":600,"y":0.0},{"m":"GISSE2R","k":"g","x":900,"y":0.4},{"m":"GISSE2R","k":"g","x":1200,"y":-0.4},{"m":"GISSE2R","k":"g","x":2500,"y":0.1},{"m":"GISSE2R","k":"g","x":3500,"y":-0.5},{"m":"GISSE2R","k":"g","x":4500,"y":0.3},{"m":"GISSE2R","k":"g","x":800,"y":-0.5},{"m":"GISSE2R","k":"g","x":2000,"y":0.7},
{"m":"HadCM3L","k":"b","x":150,"y":2.3},{"m":"HadCM3L","k":"b","x":250,"y":1.6},{"m":"HadCM3L","k":"b","x":400,"y":1.4},{"m":"HadCM3L","k":"b","x":600,"y":1.0},{"m":"HadCM3L","k":"b","x":800,"y":1.3},{"m":"HadCM3L","k":"b","x":900,"y":1.8},{"m":"HadCM3L","k":"b","x":1000,"y":0.9},{"m":"HadCM3L","k":"b","x":600,"y":1.8},
{"m":"HadCM3L","k":"g","x":250,"y":0.0},{"m":"HadCM3L","k":"g","x":400,"y":-0.8},{"m":"HadCM3L","k":"g","x":600,"y":0.5},{"m":"HadCM3L","k":"g","x":900,"y":0.1},{"m":"HadCM3L","k":"g","x":1000,"y":-0.3},{"m":"HadCM3L","k":"g","x":500,"y":0.5},
{"m":"HadGEM2","k":"b","x":120,"y":2.1},{"m":"HadGEM2","k":"b","x":200,"y":2.4},{"m":"HadGEM2","k":"b","x":250,"y":1.8},{"m":"HadGEM2","k":"b","x":400,"y":1.4},{"m":"HadGEM2","k":"b","x":600,"y":1.3},{"m":"HadGEM2","k":"b","x":800,"y":1.2},{"m":"HadGEM2","k":"b","x":900,"y":0.8},{"m":"HadGEM2","k":"b","x":1300,"y":1.0},{"m":"HadGEM2","k":"b","x":1500,"y":1.2},
{"m":"HadGEM2","k":"g","x":100,"y":0.5},{"m":"HadGEM2","k":"g","x":150,"y":0.8},{"m":"HadGEM2","k":"g","x":180,"y":0.0},{"m":"HadGEM2","k":"g","x":220,"y":0.3},{"m":"HadGEM2","k":"g","x":250,"y":0.9},{"m":"HadGEM2","k":"g","x":120,"y":0.2},
{"m":"IPSLCM5A","k":"b","x":120,"y":2.4},{"m":"IPSLCM5A","k":"b","x":250,"y":2.0},{"m":"IPSLCM5A","k":"b","x":400,"y":1.9},{"m":"IPSLCM5A","k":"b","x":600,"y":1.5},{"m":"IPSLCM5A","k":"b","x":800,"y":1.2},{"m":"IPSLCM5A","k":"b","x":900,"y":0.9},{"m":"IPSLCM5A","k":"b","x":1000,"y":1.4},{"m":"IPSLCM5A","k":"b","x":300,"y":1.9},
{"m":"IPSLCM5A","k":"g","x":300,"y":0.6},{"m":"IPSLCM5A","k":"g","x":400,"y":0.3},{"m":"IPSLCM5A","k":"g","x":500,"y":-0.1},{"m":"IPSLCM5A","k":"g","x":600,"y":0.5},{"m":"IPSLCM5A","k":"g","x":800,"y":0.0},{"m":"IPSLCM5A","k":"g","x":900,"y":0.4},
{"m":"MIROC32","k":"b","x":150,"y":3.5},{"m":"MIROC32","k":"b","x":200,"y":3.5},{"m":"MIROC32","k":"b","x":300,"y":3.1},{"m":"MIROC32","k":"b","x":500,"y":2.6},{"m":"MIROC32","k":"b","x":700,"y":2.2},{"m":"MIROC32","k":"b","x":900,"y":1.8},{"m":"MIROC32","k":"b","x":1100,"y":1.5},{"m":"MIROC32","k":"b","x":1800,"y":1.4},{"m":"MIROC32","k":"b","x":2200,"y":1.5},{"m":"MIROC32","k":"b","x":1300,"y":1.7},
{"m":"MIROC32","k":"g","x":300,"y":1.1},{"m":"MIROC32","k":"g","x":400,"y":0.9},{"m":"MIROC32","k":"g","x":500,"y":1.3},{"m":"MIROC32","k":"g","x":600,"y":0.8},{"m":"MIROC32","k":"g","x":700,"y":1.1},{"m":"MIROC32","k":"g","x":200,"y":1.0},
{"m":"MPIESM11","k":"b","x":150,"y":1.8},{"m":"MPIESM11","k":"b","x":250,"y":2.1},{"m":"MPIESM11","k":"b","x":400,"y":1.6},{"m":"MPIESM11","k":"b","x":600,"y":1.2},{"m":"MPIESM11","k":"b","x":800,"y":0.8},{"m":"MPIESM11","k":"b","x":1200,"y":0.7},{"m":"MPIESM11","k":"b","x":1500,"y":1.2},{"m":"MPIESM11","k":"b","x":2500,"y":0.5},{"m":"MPIESM11","k":"b","x":3000,"y":1.1},{"m":"MPIESM11","k":"b","x":3500,"y":0.2},{"m":"MPIESM11","k":"b","x":4000,"y":-0.4},{"m":"MPIESM11","k":"b","x":4500,"y":0.8},{"m":"MPIESM11","k":"b","x":5000,"y":1.0},{"m":"MPIESM11","k":"b","x":5000,"y":0.0},
{"m":"MPIESM11","k":"g","x":300,"y":0.5},{"m":"MPIESM11","k":"g","x":600,"y":0.1},{"m":"MPIESM11","k":"g","x":800,"y":-0.5},{"m":"MPIESM11","k":"g","x":1200,"y":0.0},{"m":"MPIESM11","k":"g","x":1500,"y":0.3},{"m":"MPIESM11","k":"g","x":1800,"y":-0.7},{"m":"MPIESM11","k":"g","x":2000,"y":0.4},
{"m":"MPIESM12","k":"b","x":120,"y":2.5},{"m":"MPIESM12","k":"b","x":250,"y":1.9},{"m":"MPIESM12","k":"b","x":400,"y":1.8},{"m":"MPIESM12","k":"b","x":600,"y":1.3},{"m":"MPIESM12","k":"b","x":800,"y":1.0},{"m":"MPIESM12","k":"b","x":900,"y":1.3},{"m":"MPIESM12","k":"b","x":1000,"y":0.7},{"m":"MPIESM12","k":"b","x":800,"y":0.5},
{"m":"MPIESM12","k":"g","x":200,"y":0.1},{"m":"MPIESM12","k":"g","x":300,"y":0.6},{"m":"MPIESM12","k":"g","x":500,"y":0.2},{"m":"MPIESM12","k":"g","x":600,"y":0.5},{"m":"MPIESM12","k":"g","x":700,"y":0.7},{"m":"MPIESM12","k":"g","x":900,"y":0.1},{"m":"MPIESM12","k":"g","x":1000,"y":0.0}
]},
"spec":{
 "width":182,"height":178,
 "layer":[
  {"transform":[{"filter":"datum.k=='b'||datum.k=='g'"}],
   "mark":{"type":"point","filled":true,"size":900,"opacity":0.45,"clip":true},
   "encoding":{
    "x":{"field":"x","type":"quantitative","title":"years","scale":{"type":"log","domain":[1,10000],"nice":false},"axis":{"values":[1,10,100,1000,10000],"labelExpr":"'10' + ['⁰','¹','²','³','⁴'][round(log(datum.value)/LN10)]"}},
    "y":{"field":"y","type":"quantitative","title":"Wm⁻²","scale":{"domain":[-2,6],"nice":false},"axis":{"values":[-2,0,2,4,6]}},
    "shape":{"field":"k","type":"nominal","scale":{"domain":["r0","rx","s","q","f","b","g"],"range":["M-1.6,0H-0.75M-0.13,0H0.73M1.35,0H2.2","M-1.6,0H-0.75M-0.13,0H0.73M1.35,0H2.2","M-1.6,0H2.2","M-1.6,-0.7H2.2V0.7H-1.6Z","M-1.6,0H2.2","M-0.3,0A0.3,0.3,0,1,0,0.3,0A0.3,0.3,0,1,0,-0.3,0Z","M-0.3,0A0.3,0.3,0,1,0,0.3,0A0.3,0.3,0,1,0,-0.3,0Z"]},
      "legend":{"title":null,"labelExpr":"datum.value=='r0'?'R₀ᶜᵀᴿᴸ':datum.value=='rx'?'Rₑₓₜᵣₐₚ⁴ˣ':datum.value=='s'?'ABRUPT4X (simulated)':datum.value=='q'?'ABRUPT4X (10-90pct)':datum.value=='f'?'Submitted scenario (fitted)':datum.value=='b'?'Submitted scenario (LongrunMIP)':'PICTRL (LongrunMIP)'"}},
    "fill":{"field":"k","type":"nominal","scale":{"domain":["r0","rx","s","q","f","b","g"],"range":["rgba(0,0,0,0)","rgba(0,0,0,0)","rgba(0,0,0,0)","#cccccc","rgba(0,0,0,0)","#87cefa","#90ee90"]},
      "legend":{"title":null,"labelExpr":"datum.value=='r0'?'R₀ᶜᵀᴿᴸ':datum.value=='rx'?'Rₑₓₜᵣₐₚ⁴ˣ':datum.value=='s'?'ABRUPT4X (simulated)':datum.value=='q'?'ABRUPT4X (10-90pct)':datum.value=='f'?'Submitted scenario (fitted)':datum.value=='b'?'Submitted scenario (LongrunMIP)':'PICTRL (LongrunMIP)'"}},
    "stroke":{"field":"k","type":"nominal","scale":{"domain":["r0","rx","s","q","f","b","g"],"range":["#006400","#000000","#000000","#888888","#000080","rgba(0,0,0,0)","rgba(0,0,0,0)"]},
      "legend":{"title":null,"labelExpr":"datum.value=='r0'?'R₀ᶜᵀᴿᴸ':datum.value=='rx'?'Rₑₓₜᵣₐₚ⁴ˣ':datum.value=='s'?'ABRUPT4X (simulated)':datum.value=='q'?'ABRUPT4X (10-90pct)':datum.value=='f'?'Submitted scenario (fitted)':datum.value=='b'?'Submitted scenario (LongrunMIP)':'PICTRL (LongrunMIP)'"}}
   }},
  {"transform":[{"filter":"datum.k=='s'"}],
   "mark":{"type":"area","color":"#c8c8c8","stroke":"#808080","strokeWidth":1,"clip":true},
   "encoding":{"x":{"field":"x","type":"quantitative","title":"years"},"y":{"field":"lo","type":"quantitative","title":"Wm⁻²"},"y2":{"field":"hi"}}},
  {"transform":[{"filter":"datum.k=='r'"}],
   "mark":{"type":"rule","color":"#006400","strokeWidth":2.2,"strokeDash":[7.4,3.2]},
   "encoding":{"y":{"field":"r0","type":"quantitative","title":"Wm⁻²"}}},
  {"transform":[{"filter":"datum.k=='r'"}],
   "mark":{"type":"rule","color":"black","strokeWidth":2.2,"strokeDash":[7.4,3.2]},
   "encoding":{"y":{"field":"rx","type":"quantitative","title":"Wm⁻²"}}},
  {"transform":[{"filter":"datum.k=='s'"}],
   "mark":{"type":"line","color":"black","strokeWidth":2.4,"clip":true},
   "encoding":{"x":{"field":"x","type":"quantitative","title":"years"},"y":{"field":"y","type":"quantitative","title":"Wm⁻²"}}},
  {"transform":[{"filter":"datum.k=='f'"}],
   "mark":{"type":"line","color":"#000080","strokeWidth":2.4,"clip":true},
   "encoding":{"x":{"field":"x","type":"quantitative","title":"years"},"y":{"field":"y","type":"quantitative","title":"Wm⁻²"}}},
  {"transform":[{"filter":"datum.k=='r'"}],
   "mark":{"type":"text","align":"right","baseline":"top","dx":0,"dy":6,"fontSize":18,"color":"#00008b"},
   "encoding":{"x":{"datum":10000,"type":"quantitative","title":"years"},"y":{"datum":6,"type":"quantitative","title":"Wm⁻²"},"text":{"field":"lab"}}}
 ]
}
}
